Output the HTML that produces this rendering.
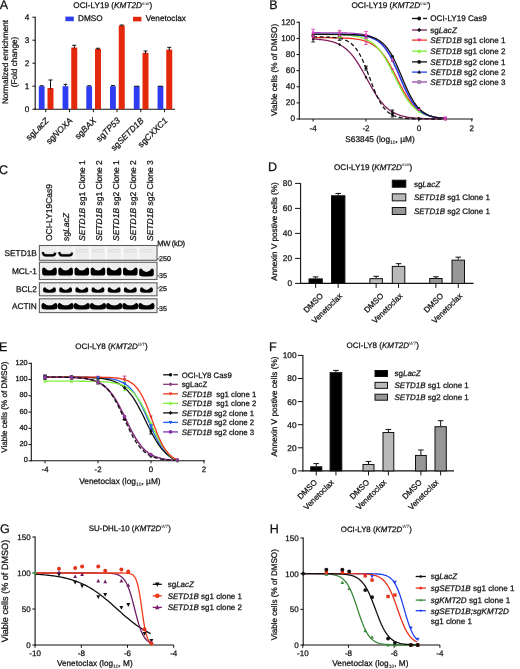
<!DOCTYPE html>
<html><head><meta charset="utf-8"><style>
html,body{margin:0;padding:0;background:#fff;}
body{width:520px;height:669px;overflow:hidden;}
svg{display:block;will-change:transform;}
text{font-family:"Liberation Sans", sans-serif;text-rendering:geometricPrecision;stroke:#111;stroke-width:0.25px;}
</style></head><body>
<svg width="520" height="669" viewBox="0 0 520 669">
<rect width="520" height="669" fill="#fff"/>
<text x="-0.30" y="8.60" font-size="12.5" text-anchor="start" fill="#111" >A</text>
<text x="73.30" y="7.80" font-size="8.2" fill="#111">OCI-LY19 (<tspan font-style="italic">KMT2D</tspan><tspan font-size="4.6" dy="-3.2" font-style="italic" style="stroke-width:0px">mut</tspan><tspan dy="3.2">)</tspan></text>
<line x1="35.20" y1="16.70" x2="35.20" y2="109.70" stroke="#111" stroke-width="1.1" />
<line x1="34.70" y1="109.20" x2="175.00" y2="109.20" stroke="#111" stroke-width="1.1" />
<line x1="32.40" y1="109.20" x2="35.20" y2="109.20" stroke="#111" stroke-width="1" />
<text x="29.20" y="112.10" font-size="8.2" text-anchor="end" fill="#111" >0</text>
<line x1="32.40" y1="86.20" x2="35.20" y2="86.20" stroke="#111" stroke-width="1" />
<text x="29.20" y="89.10" font-size="8.2" text-anchor="end" fill="#111" >1</text>
<line x1="32.40" y1="63.20" x2="35.20" y2="63.20" stroke="#111" stroke-width="1" />
<text x="29.20" y="66.10" font-size="8.2" text-anchor="end" fill="#111" >2</text>
<line x1="32.40" y1="40.20" x2="35.20" y2="40.20" stroke="#111" stroke-width="1" />
<text x="29.20" y="43.10" font-size="8.2" text-anchor="end" fill="#111" >3</text>
<line x1="32.40" y1="17.20" x2="35.20" y2="17.20" stroke="#111" stroke-width="1" />
<text x="29.20" y="20.10" font-size="8.2" text-anchor="end" fill="#111" >4</text>
<text x="7.50" y="62.00" font-size="8.2" text-anchor="middle" fill="#111" transform="rotate(-90 7.50 62.00)" >Normalized enrichment</text>
<text x="17.00" y="62.00" font-size="8.2" text-anchor="middle" fill="#111" transform="rotate(-90 17.00 62.00)" >(Fold change)</text>
<rect x="65.40" y="16.60" width="8.40" height="4.60" fill="#2f3cf2" stroke="none" stroke-width="0" />
<text x="78.00" y="21.30" font-size="8.2" text-anchor="start" fill="#111" >DMSO</text>
<rect x="133.00" y="16.80" width="8.40" height="4.60" fill="#e3280c" stroke="none" stroke-width="0" />
<text x="145.80" y="21.30" font-size="8.2" text-anchor="start" fill="#111" >Venetoclax</text>
<rect x="38.80" y="86.20" width="5.80" height="23.00" fill="#2f3cf2" stroke="none" stroke-width="0" />
<line x1="41.70" y1="85.74" x2="41.70" y2="86.20" stroke="#111" stroke-width="1" />
<line x1="39.80" y1="85.74" x2="43.60" y2="85.74" stroke="#111" stroke-width="1" />
<rect x="47.50" y="88.04" width="6.00" height="21.16" fill="#e3280c" stroke="none" stroke-width="0" />
<line x1="50.50" y1="79.99" x2="50.50" y2="89.04" stroke="#111" stroke-width="1" />
<line x1="48.50" y1="79.99" x2="52.50" y2="79.99" stroke="#111" stroke-width="1" />
<line x1="45.80" y1="109.20" x2="45.80" y2="112.20" stroke="#111" stroke-width="1" />
<text x="49.30" y="121.20" font-size="8.6" text-anchor="end" fill="#111" transform="rotate(-45 49.30 121.20)">sg<tspan font-style="italic">LacZ</tspan></text>
<rect x="62.55" y="86.20" width="5.80" height="23.00" fill="#2f3cf2" stroke="none" stroke-width="0" />
<line x1="65.45" y1="84.36" x2="65.45" y2="86.20" stroke="#111" stroke-width="1" />
<line x1="63.55" y1="84.36" x2="67.35" y2="84.36" stroke="#111" stroke-width="1" />
<rect x="71.25" y="47.56" width="6.00" height="61.64" fill="#e3280c" stroke="none" stroke-width="0" />
<line x1="74.25" y1="45.26" x2="74.25" y2="48.56" stroke="#111" stroke-width="1" />
<line x1="72.25" y1="45.26" x2="76.25" y2="45.26" stroke="#111" stroke-width="1" />
<line x1="69.55" y1="109.20" x2="69.55" y2="112.20" stroke="#111" stroke-width="1" />
<text x="73.05" y="121.20" font-size="8.6" text-anchor="end" fill="#111" transform="rotate(-45 73.05 121.20)">sg<tspan font-style="italic">NOXA</tspan></text>
<rect x="86.30" y="86.20" width="5.80" height="23.00" fill="#2f3cf2" stroke="none" stroke-width="0" />
<line x1="89.20" y1="85.74" x2="89.20" y2="86.20" stroke="#111" stroke-width="1" />
<line x1="87.30" y1="85.74" x2="91.10" y2="85.74" stroke="#111" stroke-width="1" />
<rect x="95.00" y="48.94" width="6.00" height="60.26" fill="#e3280c" stroke="none" stroke-width="0" />
<line x1="98.00" y1="48.25" x2="98.00" y2="49.94" stroke="#111" stroke-width="1" />
<line x1="96.00" y1="48.25" x2="100.00" y2="48.25" stroke="#111" stroke-width="1" />
<line x1="93.30" y1="109.20" x2="93.30" y2="112.20" stroke="#111" stroke-width="1" />
<text x="96.80" y="121.20" font-size="8.6" text-anchor="end" fill="#111" transform="rotate(-45 96.80 121.20)">sg<tspan font-style="italic">BAX</tspan></text>
<rect x="110.05" y="86.20" width="5.80" height="23.00" fill="#2f3cf2" stroke="none" stroke-width="0" />
<line x1="112.95" y1="85.51" x2="112.95" y2="86.20" stroke="#111" stroke-width="1" />
<line x1="111.05" y1="85.51" x2="114.85" y2="85.51" stroke="#111" stroke-width="1" />
<rect x="118.75" y="25.48" width="6.00" height="83.72" fill="#e3280c" stroke="none" stroke-width="0" />
<line x1="121.75" y1="25.02" x2="121.75" y2="26.48" stroke="#111" stroke-width="1" />
<line x1="119.75" y1="25.02" x2="123.75" y2="25.02" stroke="#111" stroke-width="1" />
<line x1="117.05" y1="109.20" x2="117.05" y2="112.20" stroke="#111" stroke-width="1" />
<text x="120.55" y="121.20" font-size="8.6" text-anchor="end" fill="#111" transform="rotate(-45 120.55 121.20)">sg<tspan font-style="italic">TP53</tspan></text>
<rect x="133.80" y="86.20" width="5.80" height="23.00" fill="#2f3cf2" stroke="none" stroke-width="0" />
<line x1="134.30" y1="86.20" x2="139.10" y2="86.20" stroke="#111" stroke-width="1" />
<rect x="142.50" y="52.85" width="6.00" height="56.35" fill="#e3280c" stroke="none" stroke-width="0" />
<line x1="145.50" y1="51.01" x2="145.50" y2="53.85" stroke="#111" stroke-width="1" />
<line x1="143.50" y1="51.01" x2="147.50" y2="51.01" stroke="#111" stroke-width="1" />
<line x1="140.80" y1="109.20" x2="140.80" y2="112.20" stroke="#111" stroke-width="1" />
<text x="144.30" y="121.20" font-size="8.6" text-anchor="end" fill="#111" transform="rotate(-45 144.30 121.20)">sg<tspan font-style="italic">SETD1B</tspan></text>
<rect x="157.55" y="86.20" width="5.80" height="23.00" fill="#2f3cf2" stroke="none" stroke-width="0" />
<line x1="158.05" y1="86.20" x2="162.85" y2="86.20" stroke="#111" stroke-width="1" />
<rect x="166.25" y="49.63" width="6.00" height="59.57" fill="#e3280c" stroke="none" stroke-width="0" />
<line x1="169.25" y1="47.33" x2="169.25" y2="50.63" stroke="#111" stroke-width="1" />
<line x1="167.25" y1="47.33" x2="171.25" y2="47.33" stroke="#111" stroke-width="1" />
<line x1="164.55" y1="109.20" x2="164.55" y2="112.20" stroke="#111" stroke-width="1" />
<text x="168.05" y="121.20" font-size="8.6" text-anchor="end" fill="#111" transform="rotate(-45 168.05 121.20)">sg<tspan font-style="italic">CXXC1</tspan></text>
<text x="269.30" y="8.70" font-size="12.5" text-anchor="start" fill="#111" >B</text>
<text x="351.50" y="8.00" font-size="8.2" fill="#111">OCI-LY19 (<tspan font-style="italic">KMT2D</tspan><tspan font-size="4.6" dy="-3.2" font-style="italic" style="stroke-width:0px">mut</tspan><tspan dy="3.2">)</tspan></text>
<line x1="299.30" y1="21.78" x2="299.30" y2="119.50" stroke="#111" stroke-width="1.1" />
<line x1="298.80" y1="119.00" x2="473.00" y2="119.00" stroke="#111" stroke-width="1.1" />
<line x1="296.50" y1="119.00" x2="299.30" y2="119.00" stroke="#111" stroke-width="1" />
<text x="295.00" y="121.30" font-size="8.3" text-anchor="end" fill="#111" >0</text>
<line x1="296.50" y1="102.88" x2="299.30" y2="102.88" stroke="#111" stroke-width="1" />
<text x="295.00" y="105.18" font-size="8.3" text-anchor="end" fill="#111" >20</text>
<line x1="296.50" y1="86.76" x2="299.30" y2="86.76" stroke="#111" stroke-width="1" />
<text x="295.00" y="89.06" font-size="8.3" text-anchor="end" fill="#111" >40</text>
<line x1="296.50" y1="70.64" x2="299.30" y2="70.64" stroke="#111" stroke-width="1" />
<text x="295.00" y="72.94" font-size="8.3" text-anchor="end" fill="#111" >60</text>
<line x1="296.50" y1="54.52" x2="299.30" y2="54.52" stroke="#111" stroke-width="1" />
<text x="295.00" y="56.82" font-size="8.3" text-anchor="end" fill="#111" >80</text>
<line x1="296.50" y1="38.40" x2="299.30" y2="38.40" stroke="#111" stroke-width="1" />
<text x="295.00" y="40.70" font-size="8.3" text-anchor="end" fill="#111" >100</text>
<line x1="296.50" y1="22.28" x2="299.30" y2="22.28" stroke="#111" stroke-width="1" />
<text x="295.00" y="24.58" font-size="8.3" text-anchor="end" fill="#111" >120</text>
<line x1="313.10" y1="119.00" x2="313.10" y2="121.50" stroke="#111" stroke-width="1" />
<text x="313.10" y="130.50" font-size="8" text-anchor="middle" fill="#111" >-4</text>
<line x1="366.00" y1="119.00" x2="366.00" y2="121.50" stroke="#111" stroke-width="1" />
<text x="366.00" y="130.50" font-size="8" text-anchor="middle" fill="#111" >-2</text>
<line x1="418.90" y1="119.00" x2="418.90" y2="121.50" stroke="#111" stroke-width="1" />
<text x="418.90" y="130.50" font-size="8" text-anchor="middle" fill="#111" >0</text>
<line x1="471.80" y1="119.00" x2="471.80" y2="121.50" stroke="#111" stroke-width="1" />
<text x="471.80" y="130.50" font-size="8" text-anchor="middle" fill="#111" >2</text>
<text x="345.3" y="142" font-size="8.3" fill="#111">S63845 (log<tspan font-size="5" dy="2" style="stroke-width:0.1px">10</tspan><tspan dy="-2">, µM)</tspan></text>
<text x="277.00" y="70.00" font-size="8.2" text-anchor="middle" fill="#111" transform="rotate(-90 277.00 70.00)" >Viable cells (% of DMSO)</text>
<polyline points="313.10,37.62 314.75,37.62 316.41,37.63 318.06,37.63 319.71,37.64 321.37,37.65 323.02,37.65 324.67,37.66 326.32,37.68 327.98,37.69 329.63,37.71 331.28,37.73 332.94,37.75 334.59,37.78 336.24,37.81 337.90,37.85 339.55,37.90 341.20,37.95 342.86,38.01 344.51,38.08 346.16,38.17 347.82,38.26 349.47,38.38 351.12,38.52 352.77,38.68 354.43,38.86 356.08,39.08 357.73,39.34 359.39,39.63 361.04,39.98 362.69,40.38 364.35,40.85 366.00,41.39 367.65,42.02 369.31,42.74 370.96,43.58 372.61,44.54 374.27,45.63 375.92,46.88 377.57,48.29 379.22,49.88 380.88,51.65 382.53,53.63 384.18,55.80 385.84,58.18 387.49,60.76 389.14,63.52 390.80,66.45 392.45,69.51 394.10,72.69 395.76,75.94 397.41,79.22 399.06,82.48 400.72,85.69 402.37,88.81 404.02,91.81 405.67,94.64 407.33,97.30 408.98,99.77 410.63,102.03 412.29,104.10 413.94,105.96 415.59,107.63 417.25,109.12 418.90,110.43 420.55,111.59 422.21,112.61 423.86,113.50 425.51,114.27 427.17,114.94 428.82,115.52 430.47,116.02 432.12,116.45 433.78,116.82 435.43,117.13 437.08,117.41 438.74,117.64 440.39,117.84 442.04,118.01 443.70,118.16 445.35,118.28" fill="none" stroke="#f0361c" stroke-width="1.3"/>
<polyline points="313.10,34.40 314.75,34.41 316.41,34.41 318.06,34.42 319.71,34.43 321.37,34.44 323.02,34.45 324.67,34.47 326.32,34.48 327.98,34.50 329.63,34.53 331.28,34.55 332.94,34.58 334.59,34.62 336.24,34.66 337.90,34.71 339.55,34.77 341.20,34.84 342.86,34.92 344.51,35.02 346.16,35.13 347.82,35.26 349.47,35.41 351.12,35.59 352.77,35.80 354.43,36.04 356.08,36.33 357.73,36.65 359.39,37.04 361.04,37.48 362.69,38.00 364.35,38.60 366.00,39.29 367.65,40.08 369.31,40.99 370.96,42.04 372.61,43.22 374.27,44.57 375.92,46.09 377.57,47.80 379.22,49.71 380.88,51.82 382.53,54.13 384.18,56.66 385.84,59.38 387.49,62.28 389.14,65.34 390.80,68.54 392.45,71.84 394.10,75.20 395.76,78.58 397.41,81.93 399.06,85.22 400.72,88.40 402.37,91.45 404.02,94.33 405.67,97.03 407.33,99.53 408.98,101.82 410.63,103.90 412.29,105.78 413.94,107.47 415.59,108.97 417.25,110.30 418.90,111.47 420.55,112.49 422.21,113.39 423.86,114.17 425.51,114.85 427.17,115.44 428.82,115.94 430.47,116.38 432.12,116.76 433.78,117.08 435.43,117.36 437.08,117.60 438.74,117.80 440.39,117.98 442.04,118.13 443.70,118.25 445.35,118.36" fill="none" stroke="#7cf03a" stroke-width="1.3"/>
<polyline points="313.10,32.77 314.75,32.77 316.41,32.77 318.06,32.77 319.71,32.77 321.37,32.78 323.02,32.78 324.67,32.78 326.32,32.79 327.98,32.79 329.63,32.80 331.28,32.81 332.94,32.82 334.59,32.83 336.24,32.85 337.90,32.87 339.55,32.89 341.20,32.91 342.86,32.94 344.51,32.98 346.16,33.02 347.82,33.07 349.47,33.14 351.12,33.21 352.77,33.30 354.43,33.40 356.08,33.53 357.73,33.68 359.39,33.86 361.04,34.08 362.69,34.33 364.35,34.63 366.00,34.99 367.65,35.42 369.31,35.93 370.96,36.52 372.61,37.23 374.27,38.05 375.92,39.02 377.57,40.15 379.22,41.46 380.88,42.97 382.53,44.70 384.18,46.68 385.84,48.91 387.49,51.40 389.14,54.17 390.80,57.19 392.45,60.46 394.10,63.94 395.76,67.61 397.41,71.40 399.06,75.26 400.72,79.13 402.37,82.95 404.02,86.66 405.67,90.21 407.33,93.55 408.98,96.65 410.63,99.50 412.29,102.08 413.94,104.39 415.59,106.45 417.25,108.26 418.90,109.84 420.55,111.21 422.21,112.40 423.86,113.41 425.51,114.28 427.17,115.02 428.82,115.65 430.47,116.19 432.12,116.64 433.78,117.02 435.43,117.34 437.08,117.61 438.74,117.83 440.39,118.02 442.04,118.18 443.70,118.32 445.35,118.43" fill="none" stroke="#a040b8" stroke-width="1.3"/>
<polyline points="313.10,34.38 314.75,34.38 316.41,34.38 318.06,34.38 319.71,34.38 321.37,34.38 323.02,34.39 324.67,34.39 326.32,34.39 327.98,34.40 329.63,34.41 331.28,34.41 332.94,34.42 334.59,34.43 336.24,34.44 337.90,34.46 339.55,34.48 341.20,34.50 342.86,34.52 344.51,34.56 346.16,34.59 347.82,34.64 349.47,34.69 351.12,34.76 352.77,34.83 354.43,34.92 356.08,35.03 357.73,35.17 359.39,35.32 361.04,35.51 362.69,35.74 364.35,36.01 366.00,36.33 367.65,36.71 369.31,37.16 370.96,37.70 372.61,38.34 374.27,39.09 375.92,39.97 377.57,41.01 379.22,42.22 380.88,43.62 382.53,45.23 384.18,47.09 385.84,49.19 387.49,51.56 389.14,54.20 390.80,57.10 392.45,60.27 394.10,63.66 395.76,67.26 397.41,71.00 399.06,74.83 400.72,78.69 402.37,82.53 404.02,86.26 405.67,89.85 407.33,93.23 408.98,96.39 410.63,99.28 412.29,101.91 413.94,104.27 415.59,106.36 417.25,108.20 418.90,109.81 420.55,111.21 422.21,112.41 423.86,113.44 425.51,114.31 427.17,115.06 428.82,115.69 430.47,116.23 432.12,116.68 433.78,117.06 435.43,117.37 437.08,117.64 438.74,117.87 440.39,118.05 442.04,118.21 443.70,118.34 445.35,118.45" fill="none" stroke="#2140f0" stroke-width="1.3"/>
<polyline points="313.10,34.37 314.75,34.37 316.41,34.38 318.06,34.38 319.71,34.38 321.37,34.38 323.02,34.38 324.67,34.38 326.32,34.39 327.98,34.39 329.63,34.39 331.28,34.40 332.94,34.41 334.59,34.41 336.24,34.42 337.90,34.43 339.55,34.44 341.20,34.46 342.86,34.48 344.51,34.50 346.16,34.53 347.82,34.56 349.47,34.60 351.12,34.65 352.77,34.70 354.43,34.77 356.08,34.85 357.73,34.95 359.39,35.07 361.04,35.21 362.69,35.38 364.35,35.59 366.00,35.83 367.65,36.13 369.31,36.48 370.96,36.90 372.61,37.40 374.27,38.00 375.92,38.71 377.57,39.54 379.22,40.53 380.88,41.69 382.53,43.04 384.18,44.61 385.84,46.42 387.49,48.48 389.14,50.82 390.80,53.44 392.45,56.35 394.10,59.52 395.76,62.95 397.41,66.59 399.06,70.40 400.72,74.31 402.37,78.27 404.02,82.20 405.67,86.03 407.33,89.71 408.98,93.18 410.63,96.41 412.29,99.37 413.94,102.05 415.59,104.44 417.25,106.56 418.90,108.42 420.55,110.03 422.21,111.43 423.86,112.62 425.51,113.64 427.17,114.51 428.82,115.24 430.47,115.86 432.12,116.38 433.78,116.81 435.43,117.18 437.08,117.48 438.74,117.74 440.39,117.95 442.04,118.13 443.70,118.28 445.35,118.40" fill="none" stroke="#111111" stroke-width="1.3"/>
<polyline points="313.10,38.99 314.75,39.09 316.41,39.20 318.06,39.33 319.71,39.48 321.37,39.65 323.02,39.85 324.67,40.08 326.32,40.35 327.98,40.65 329.63,41.01 331.28,41.42 332.94,41.89 334.59,42.43 336.24,43.05 337.90,43.76 339.55,44.57 341.20,45.49 342.86,46.53 344.51,47.70 346.16,49.02 347.82,50.49 349.47,52.13 351.12,53.93 352.77,55.92 354.43,58.08 356.08,60.41 357.73,62.91 359.39,65.56 361.04,68.34 362.69,71.24 364.35,74.21 366.00,77.24 367.65,80.28 369.31,83.31 370.96,86.28 372.61,89.17 374.27,91.95 375.92,94.60 377.57,97.09 379.22,99.41 380.88,101.57 382.53,103.54 384.18,105.34 385.84,106.97 387.49,108.44 389.14,109.75 390.80,110.92 392.45,111.95 394.10,112.86 395.76,113.67 397.41,114.37 399.06,114.99 400.72,115.53 402.37,116.00 404.02,116.40 405.67,116.76 407.33,117.07 408.98,117.33 410.63,117.56 412.29,117.76 413.94,117.93 415.59,118.08 417.25,118.21 418.90,118.32 420.55,118.41 422.21,118.49 423.86,118.56 425.51,118.63 427.17,118.68 428.82,118.72 430.47,118.76 432.12,118.80 433.78,118.82 435.43,118.85 437.08,118.87 438.74,118.89 440.39,118.90 442.04,118.92 443.70,118.93 445.35,118.94" fill="none" stroke="#7a1f5a" stroke-width="1.3"/>
<polyline points="313.10,36.84 314.75,36.85 316.41,36.87 318.06,36.88 319.71,36.91 321.37,36.94 323.02,36.97 324.67,37.02 326.32,37.07 327.98,37.14 329.63,37.22 331.28,37.33 332.94,37.46 334.59,37.62 336.24,37.82 337.90,38.06 339.55,38.36 341.20,38.73 342.86,39.18 344.51,39.74 346.16,40.42 347.82,41.25 349.47,42.25 351.12,43.46 352.77,44.91 354.43,46.63 356.08,48.66 357.73,51.03 359.39,53.75 361.04,56.84 362.69,60.29 364.35,64.08 366.00,68.14 367.65,72.43 369.31,76.83 370.96,81.26 372.61,85.61 374.27,89.79 375.92,93.72 377.57,97.33 379.22,100.60 380.88,103.50 382.53,106.03 384.18,108.22 385.84,110.09 387.49,111.66 389.14,112.98 390.80,114.08 392.45,114.99 394.10,115.74 395.76,116.35 397.41,116.85 399.06,117.26 400.72,117.59 402.37,117.86 404.02,118.08 405.67,118.26 407.33,118.40 408.98,118.52 410.63,118.61 412.29,118.69 413.94,118.75 415.59,118.80 417.25,118.83 418.90,118.87 420.55,118.89 422.21,118.91 423.86,118.93 425.51,118.94 427.17,118.95 428.82,118.96 430.47,118.97 432.12,118.98 433.78,118.98 435.43,118.98 437.08,118.99 438.74,118.99 440.39,118.99 442.04,118.99 443.70,118.99 445.35,119.00" fill="none" stroke="#111111" stroke-width="1.3" stroke-dasharray="4,2.5"/>
<circle cx="313.10" cy="36.84" r="1.40" fill="#111"/>
<line x1="339.55" y1="36.36" x2="339.55" y2="40.36" stroke="#111" stroke-width="0.9" />
<line x1="337.75" y1="36.36" x2="341.35" y2="36.36" stroke="#111" stroke-width="0.9" />
<line x1="337.75" y1="40.36" x2="341.35" y2="40.36" stroke="#111" stroke-width="0.9" />
<circle cx="339.55" cy="38.36" r="1.40" fill="#111"/>
<line x1="366.00" y1="66.14" x2="366.00" y2="70.14" stroke="#111" stroke-width="0.9" />
<line x1="364.20" y1="66.14" x2="367.80" y2="66.14" stroke="#111" stroke-width="0.9" />
<line x1="364.20" y1="70.14" x2="367.80" y2="70.14" stroke="#111" stroke-width="0.9" />
<circle cx="366.00" cy="68.14" r="1.40" fill="#111"/>
<line x1="392.45" y1="112.99" x2="392.45" y2="116.99" stroke="#111" stroke-width="0.9" />
<line x1="390.65" y1="112.99" x2="394.25" y2="112.99" stroke="#111" stroke-width="0.9" />
<line x1="390.65" y1="116.99" x2="394.25" y2="116.99" stroke="#111" stroke-width="0.9" />
<circle cx="392.45" cy="114.99" r="1.40" fill="#111"/>
<circle cx="418.90" cy="118.87" r="1.40" fill="#111"/>
<circle cx="445.35" cy="119.00" r="1.40" fill="#111"/>
<line x1="313.10" y1="35.99" x2="313.10" y2="41.99" stroke="#111" stroke-width="0.9" />
<line x1="311.30" y1="35.99" x2="314.90" y2="35.99" stroke="#111" stroke-width="0.9" />
<line x1="311.30" y1="41.99" x2="314.90" y2="41.99" stroke="#111" stroke-width="0.9" />
<polygon points="313.10,37.31 314.50,38.99 313.10,40.67 311.70,38.99" fill="#111"/>
<polygon points="339.55,42.89 340.95,44.57 339.55,46.25 338.15,44.57" fill="#111"/>
<polygon points="366.00,75.56 367.40,77.24 366.00,78.92 364.60,77.24" fill="#111"/>
<line x1="392.45" y1="109.95" x2="392.45" y2="113.95" stroke="#111" stroke-width="0.9" />
<line x1="390.65" y1="109.95" x2="394.25" y2="109.95" stroke="#111" stroke-width="0.9" />
<line x1="390.65" y1="113.95" x2="394.25" y2="113.95" stroke="#111" stroke-width="0.9" />
<polygon points="392.45,110.27 393.85,111.95 392.45,113.63 391.05,111.95" fill="#111"/>
<polygon points="418.90,116.64 420.30,118.32 418.90,120.00 417.50,118.32" fill="#111"/>
<polygon points="445.35,117.26 446.75,118.94 445.35,120.62 443.95,118.94" fill="#111"/>
<polygon points="313.10,39.16 311.70,36.50 314.50,36.50" fill="#e0339a"/>
<polygon points="339.55,39.44 338.15,36.78 340.95,36.78" fill="#e0339a"/>
<line x1="366.00" y1="38.39" x2="366.00" y2="44.39" stroke="#e0339a" stroke-width="0.9" />
<line x1="364.20" y1="38.39" x2="367.80" y2="38.39" stroke="#e0339a" stroke-width="0.9" />
<line x1="364.20" y1="44.39" x2="367.80" y2="44.39" stroke="#e0339a" stroke-width="0.9" />
<polygon points="366.00,42.93 364.60,40.27 367.40,40.27" fill="#e0339a"/>
<polygon points="392.45,71.05 391.05,68.39 393.85,68.39" fill="#e0339a"/>
<polygon points="418.90,111.97 417.50,109.31 420.30,109.31" fill="#e0339a"/>
<polygon points="445.35,119.82 443.95,117.16 446.75,117.16" fill="#e0339a"/>
<polygon points="313.10,32.58 313.66,33.98 314.92,33.98 313.94,34.82 314.36,36.08 313.10,35.38 311.84,36.08 312.26,34.82 311.28,33.98 312.54,33.98" fill="#7cf03a"/>
<line x1="339.55" y1="31.77" x2="339.55" y2="37.77" stroke="#7cf03a" stroke-width="0.9" />
<line x1="337.75" y1="31.77" x2="341.35" y2="31.77" stroke="#7cf03a" stroke-width="0.9" />
<line x1="337.75" y1="37.77" x2="341.35" y2="37.77" stroke="#7cf03a" stroke-width="0.9" />
<polygon points="339.55,32.95 340.11,34.35 341.37,34.35 340.39,35.19 340.81,36.45 339.55,35.75 338.29,36.45 338.71,35.19 337.73,34.35 338.99,34.35" fill="#7cf03a"/>
<polygon points="366.00,37.47 366.56,38.87 367.82,38.87 366.84,39.71 367.26,40.97 366.00,40.27 364.74,40.97 365.16,39.71 364.18,38.87 365.44,38.87" fill="#7cf03a"/>
<polygon points="392.45,70.02 393.01,71.42 394.27,71.42 393.29,72.26 393.71,73.52 392.45,72.82 391.19,73.52 391.61,72.26 390.63,71.42 391.89,71.42" fill="#7cf03a"/>
<polygon points="418.90,109.65 419.46,111.05 420.72,111.05 419.74,111.89 420.16,113.15 418.90,112.45 417.64,113.15 418.06,111.89 417.08,111.05 418.34,111.05" fill="#7cf03a"/>
<polygon points="445.35,116.54 445.91,117.94 447.17,117.94 446.19,118.78 446.61,120.04 445.35,119.34 444.09,120.04 444.51,118.78 443.53,117.94 444.79,117.94" fill="#7cf03a"/>
<circle cx="313.10" cy="34.37" r="1.40" fill="#111"/>
<circle cx="339.55" cy="34.44" r="1.40" fill="#111"/>
<circle cx="366.00" cy="35.83" r="1.40" fill="#111"/>
<circle cx="392.45" cy="56.35" r="1.40" fill="#111"/>
<circle cx="418.90" cy="108.42" r="1.40" fill="#111"/>
<circle cx="445.35" cy="118.40" r="1.40" fill="#111"/>
<polygon points="313.10,32.84 311.70,35.50 314.50,35.50" fill="#111"/>
<polygon points="339.55,32.94 338.15,35.60 340.95,35.60" fill="#111"/>
<polygon points="366.00,34.79 364.60,37.45 367.40,37.45" fill="#111"/>
<polygon points="392.45,58.73 391.05,61.39 393.85,61.39" fill="#111"/>
<polygon points="418.90,108.27 417.50,110.93 420.30,110.93" fill="#111"/>
<polygon points="445.35,116.91 443.95,119.57 446.75,119.57" fill="#111"/>
<line x1="313.10" y1="29.27" x2="313.10" y2="36.27" stroke="#e040c0" stroke-width="0.9" />
<line x1="311.30" y1="29.27" x2="314.90" y2="29.27" stroke="#e040c0" stroke-width="0.9" />
<line x1="311.30" y1="36.27" x2="314.90" y2="36.27" stroke="#e040c0" stroke-width="0.9" />
<circle cx="313.10" cy="32.77" r="1.40" fill="#e040c0"/>
<line x1="339.55" y1="30.39" x2="339.55" y2="35.39" stroke="#e040c0" stroke-width="0.9" />
<line x1="337.75" y1="30.39" x2="341.35" y2="30.39" stroke="#e040c0" stroke-width="0.9" />
<line x1="337.75" y1="35.39" x2="341.35" y2="35.39" stroke="#e040c0" stroke-width="0.9" />
<circle cx="339.55" cy="32.89" r="1.40" fill="#e040c0"/>
<line x1="366.00" y1="31.49" x2="366.00" y2="38.49" stroke="#e040c0" stroke-width="0.9" />
<line x1="364.20" y1="31.49" x2="367.80" y2="31.49" stroke="#e040c0" stroke-width="0.9" />
<line x1="364.20" y1="38.49" x2="367.80" y2="38.49" stroke="#e040c0" stroke-width="0.9" />
<circle cx="366.00" cy="34.99" r="1.40" fill="#e040c0"/>
<circle cx="392.45" cy="60.46" r="1.40" fill="#e040c0"/>
<circle cx="418.90" cy="109.84" r="1.40" fill="#e040c0"/>
<line x1="445.35" y1="116.93" x2="445.35" y2="119.93" stroke="#e040c0" stroke-width="0.9" />
<line x1="443.55" y1="116.93" x2="447.15" y2="116.93" stroke="#e040c0" stroke-width="0.9" />
<line x1="443.55" y1="119.93" x2="447.15" y2="119.93" stroke="#e040c0" stroke-width="0.9" />
<circle cx="445.35" cy="118.43" r="1.40" fill="#e040c0"/>
<line x1="412" y1="18.50" x2="419" y2="18.50" stroke="#111" stroke-width="1.3"/>
<line x1="423" y1="18.50" x2="427" y2="18.50" stroke="#111" stroke-width="1.3"/>
<circle cx="419.20" cy="18.50" r="1.90" fill="#111"/>
<text x="430.3" y="21.40" font-size="8.1" fill="#111">OCI-LY19 Cas9</text>
<line x1="412" y1="30.00" x2="427" y2="30.00" stroke="#7a1f5a" stroke-width="1.3"/>
<polygon points="419.20,27.72 421.10,30.00 419.20,32.28 417.30,30.00" fill="#111"/>
<text x="430.3" y="32.90" font-size="8.1" fill="#111">sg<tspan font-style="italic">LacZ</tspan></text>
<line x1="412" y1="40.10" x2="427" y2="40.10" stroke="#f0361c" stroke-width="1.3"/>
<polygon points="419.20,42.19 417.30,38.58 421.10,38.58" fill="#e0339a"/>
<text x="430.3" y="43.00" font-size="8.1" fill="#111"><tspan font-style="italic">SETD1B</tspan> sg1 clone 1</text>
<line x1="412" y1="51.20" x2="427" y2="51.20" stroke="#7cf03a" stroke-width="1.3"/>
<polygon points="419.20,48.73 419.96,50.63 421.67,50.63 420.34,51.77 420.91,53.48 419.20,52.53 417.49,53.48 418.06,51.77 416.73,50.63 418.44,50.63" fill="#7cf03a"/>
<text x="430.3" y="54.10" font-size="8.1" fill="#111"><tspan font-style="italic">SETD1B</tspan> sg1 clone 2</text>
<line x1="412" y1="61.90" x2="427" y2="61.90" stroke="#111" stroke-width="1.3"/>
<circle cx="419.20" cy="61.90" r="1.90" fill="#111"/>
<text x="430.3" y="64.80" font-size="8.1" fill="#111"><tspan font-style="italic">SETD1B</tspan> sg2 clone 1</text>
<line x1="412" y1="72.10" x2="427" y2="72.10" stroke="#2140f0" stroke-width="1.3"/>
<polygon points="419.20,70.01 417.30,73.62 421.10,73.62" fill="#111"/>
<text x="430.3" y="75.00" font-size="8.1" fill="#111"><tspan font-style="italic">SETD1B</tspan> sg2 clone 2</text>
<line x1="412" y1="82.00" x2="427" y2="82.00" stroke="#a040b8" stroke-width="1.3"/>
<rect x="417.30" y="80.10" width="3.80" height="3.80" fill="#a08aa8"/>
<text x="430.3" y="84.90" font-size="8.1" fill="#111"><tspan font-style="italic">SETD1B</tspan> sg2 clone 3</text>
<text x="-1.00" y="173.60" font-size="12.5" text-anchor="start" fill="#111" >C</text>
<text x="51.70" y="241.00" font-size="8.5" fill="#111" transform="rotate(-90 51.70 241.00)">OCI-LY19Cas9</text>
<text x="68.50" y="241.00" font-size="8.5" fill="#111" transform="rotate(-90 68.50 241.00)">sg<tspan font-style="italic">LacZ</tspan></text>
<text x="85.30" y="241.00" font-size="8.5" fill="#111" transform="rotate(-90 85.30 241.00)"><tspan font-style="italic">SETD1B</tspan> sg1 Clone 1</text>
<text x="102.10" y="241.00" font-size="8.5" fill="#111" transform="rotate(-90 102.10 241.00)"><tspan font-style="italic">SETD1B</tspan> sg1 Clone 2</text>
<text x="118.90" y="241.00" font-size="8.5" fill="#111" transform="rotate(-90 118.90 241.00)"><tspan font-style="italic">SETD1B</tspan> sg2 Clone 1</text>
<text x="135.70" y="241.00" font-size="8.5" fill="#111" transform="rotate(-90 135.70 241.00)"><tspan font-style="italic">SETD1B</tspan> sg2 Clone 2</text>
<text x="152.50" y="241.00" font-size="8.5" fill="#111" transform="rotate(-90 152.50 241.00)"><tspan font-style="italic">SETD1B</tspan> sg2 Clone 3</text>
<defs><filter id="bl" x="-20%" y="-50%" width="140%" height="200%"><feGaussianBlur stdDeviation="0.45"/></filter></defs>
<rect x="39.40" y="245.50" width="117.60" height="14.80" fill="#eeeeee" stroke="#606060" stroke-width="1.1" />
<rect x="56.53" y="246.50" width="2" height="12.80" fill="#f8f8f8" filter="url(#bl)"/>
<rect x="72.70" y="246.50" width="2" height="12.80" fill="#f8f8f8" filter="url(#bl)"/>
<rect x="88.87" y="246.50" width="2" height="12.80" fill="#f8f8f8" filter="url(#bl)"/>
<rect x="105.04" y="246.50" width="2" height="12.80" fill="#f8f8f8" filter="url(#bl)"/>
<rect x="121.21" y="246.50" width="2" height="12.80" fill="#f8f8f8" filter="url(#bl)"/>
<rect x="137.38" y="246.50" width="2" height="12.80" fill="#f8f8f8" filter="url(#bl)"/>
<text x="36.80" y="255.80" font-size="8.3" text-anchor="end" fill="#111" >SETD1B</text>
<line x1="157.50" y1="258.80" x2="159.30" y2="258.80" stroke="#111" stroke-width="0.8" />
<text x="159.00" y="261.40" font-size="7.1" text-anchor="start" fill="#111" >250</text>
<rect x="39.40" y="262.30" width="117.60" height="17.20" fill="#eeeeee" stroke="#606060" stroke-width="1.1" />
<rect x="56.53" y="263.30" width="2" height="15.20" fill="#f8f8f8" filter="url(#bl)"/>
<rect x="72.70" y="263.30" width="2" height="15.20" fill="#f8f8f8" filter="url(#bl)"/>
<rect x="88.87" y="263.30" width="2" height="15.20" fill="#f8f8f8" filter="url(#bl)"/>
<rect x="105.04" y="263.30" width="2" height="15.20" fill="#f8f8f8" filter="url(#bl)"/>
<rect x="121.21" y="263.30" width="2" height="15.20" fill="#f8f8f8" filter="url(#bl)"/>
<rect x="137.38" y="263.30" width="2" height="15.20" fill="#f8f8f8" filter="url(#bl)"/>
<text x="36.80" y="273.80" font-size="8.3" text-anchor="end" fill="#111" >MCL-1</text>
<line x1="157.50" y1="275.80" x2="159.30" y2="275.80" stroke="#111" stroke-width="0.8" />
<text x="159.00" y="278.40" font-size="7.1" text-anchor="start" fill="#111" >35</text>
<rect x="39.40" y="282.80" width="117.60" height="13.00" fill="#eeeeee" stroke="#606060" stroke-width="1.1" />
<rect x="56.53" y="283.80" width="2" height="11.00" fill="#f8f8f8" filter="url(#bl)"/>
<rect x="72.70" y="283.80" width="2" height="11.00" fill="#f8f8f8" filter="url(#bl)"/>
<rect x="88.87" y="283.80" width="2" height="11.00" fill="#f8f8f8" filter="url(#bl)"/>
<rect x="105.04" y="283.80" width="2" height="11.00" fill="#f8f8f8" filter="url(#bl)"/>
<rect x="121.21" y="283.80" width="2" height="11.00" fill="#f8f8f8" filter="url(#bl)"/>
<rect x="137.38" y="283.80" width="2" height="11.00" fill="#f8f8f8" filter="url(#bl)"/>
<text x="36.80" y="292.20" font-size="8.3" text-anchor="end" fill="#111" >BCL2</text>
<line x1="157.50" y1="288.00" x2="159.30" y2="288.00" stroke="#111" stroke-width="0.8" />
<text x="159.00" y="290.60" font-size="7.1" text-anchor="start" fill="#111" >25</text>
<rect x="39.40" y="298.80" width="117.60" height="13.80" fill="#eeeeee" stroke="#606060" stroke-width="1.1" />
<rect x="56.53" y="299.80" width="2" height="11.80" fill="#f8f8f8" filter="url(#bl)"/>
<rect x="72.70" y="299.80" width="2" height="11.80" fill="#f8f8f8" filter="url(#bl)"/>
<rect x="88.87" y="299.80" width="2" height="11.80" fill="#f8f8f8" filter="url(#bl)"/>
<rect x="105.04" y="299.80" width="2" height="11.80" fill="#f8f8f8" filter="url(#bl)"/>
<rect x="121.21" y="299.80" width="2" height="11.80" fill="#f8f8f8" filter="url(#bl)"/>
<rect x="137.38" y="299.80" width="2" height="11.80" fill="#f8f8f8" filter="url(#bl)"/>
<text x="36.80" y="308.60" font-size="8.3" text-anchor="end" fill="#111" >ACTIN</text>
<line x1="157.50" y1="308.50" x2="159.30" y2="308.50" stroke="#111" stroke-width="0.8" />
<text x="159.00" y="311.10" font-size="7.1" text-anchor="start" fill="#111" >35</text>
<text x="157.30" y="246.20" font-size="7.6" text-anchor="start" fill="#111" letter-spacing="-0.35">MW (kD)</text>
<path d="M42.85,251.8 Q43.15,255.3 45.65,255.3 L52.45,255.3 Q54.95,255.3 55.25,251.8" fill="none" stroke="#555" stroke-width="3.2" opacity="0.35" filter="url(#bl)"/>
<path d="M42.85,252.2 Q43.15,255.4 45.65,255.4 L52.45,255.4 Q54.95,255.4 55.25,252.8" fill="none" stroke="#050505" stroke-width="2.1" filter="url(#bl)"/>
<path d="M42.15,269.80 Q42.15,267.60 44.35,267.60 Q49.45,273.60 54.55,267.60 Q56.75,267.60 56.75,269.80 L56.75,273.20 Q56.75,275.40 54.55,275.40 Q49.45,275.80 44.35,275.40 Q42.15,275.40 42.15,273.20 Z" fill="#050505" opacity="1.0" filter="url(#bl)"/>
<path d="M43.05,289.20 Q43.05,287.20 45.05,287.20 Q49.45,292.60 53.85,287.20 Q55.85,287.20 55.85,289.20 L55.85,290.50 Q55.85,292.50 53.85,292.50 Q49.45,293.10 45.05,292.50 Q43.05,292.50 43.05,290.50 Z" fill="#050505" opacity="1.0" filter="url(#bl)"/>
<path d="M41.45,305.20 Q41.45,303.00 43.65,303.00 Q49.45,308.20 55.25,303.00 Q57.45,303.00 57.45,305.20 L57.45,307.10 Q57.45,309.30 55.25,309.30 Q49.45,309.90 43.65,309.30 Q41.45,309.30 41.45,307.10 Z" fill="#050505" opacity="1.0" filter="url(#bl)"/>
<path d="M59.22,251.8 Q59.52,255.3 62.02,255.3 L69.22,255.3 Q71.72,255.3 72.02,251.8" fill="none" stroke="#555" stroke-width="3.2" opacity="0.35" filter="url(#bl)"/>
<path d="M59.22,252.2 Q59.52,255.4 62.02,255.4 L69.22,255.4 Q71.72,255.4 72.02,252.8" fill="none" stroke="#050505" stroke-width="2.1" filter="url(#bl)"/>
<path d="M58.32,269.80 Q58.32,267.60 60.52,267.60 Q65.62,273.60 70.72,267.60 Q72.92,267.60 72.92,269.80 L72.92,273.20 Q72.92,275.40 70.72,275.40 Q65.62,275.80 60.52,275.40 Q58.32,275.40 58.32,273.20 Z" fill="#050505" opacity="1.0" filter="url(#bl)"/>
<path d="M59.22,289.20 Q59.22,287.20 61.22,287.20 Q65.62,292.60 70.02,287.20 Q72.02,287.20 72.02,289.20 L72.02,290.50 Q72.02,292.50 70.02,292.50 Q65.62,293.10 61.22,292.50 Q59.22,292.50 59.22,290.50 Z" fill="#050505" opacity="1.0" filter="url(#bl)"/>
<path d="M57.62,305.20 Q57.62,303.00 59.82,303.00 Q65.62,308.20 71.42,303.00 Q73.62,303.00 73.62,305.20 L73.62,307.10 Q73.62,309.30 71.42,309.30 Q65.62,309.90 59.82,309.30 Q57.62,309.30 57.62,307.10 Z" fill="#050505" opacity="1.0" filter="url(#bl)"/>
<rect x="75.79" y="249.4" width="12" height="0.8" fill="#d4d4d4" filter="url(#bl)"/>
<rect x="75.79" y="251.4" width="12" height="0.8" fill="#dcdcdc" filter="url(#bl)"/>
<path d="M74.49,269.80 Q74.49,267.60 76.69,267.60 Q81.79,273.60 86.89,267.60 Q89.09,267.60 89.09,269.80 L89.09,273.20 Q89.09,275.40 86.89,275.40 Q81.79,275.80 76.69,275.40 Q74.49,275.40 74.49,273.20 Z" fill="#050505" opacity="1.0" filter="url(#bl)"/>
<path d="M75.39,289.20 Q75.39,287.20 77.39,287.20 Q81.79,292.60 86.19,287.20 Q88.19,287.20 88.19,289.20 L88.19,290.50 Q88.19,292.50 86.19,292.50 Q81.79,293.10 77.39,292.50 Q75.39,292.50 75.39,290.50 Z" fill="#050505" opacity="1.0" filter="url(#bl)"/>
<path d="M73.79,305.20 Q73.79,303.00 75.99,303.00 Q81.79,308.20 87.59,303.00 Q89.79,303.00 89.79,305.20 L89.79,307.10 Q89.79,309.30 87.59,309.30 Q81.79,309.90 75.99,309.30 Q73.79,309.30 73.79,307.10 Z" fill="#050505" opacity="1.0" filter="url(#bl)"/>
<rect x="91.96" y="249.4" width="12" height="0.8" fill="#d4d4d4" filter="url(#bl)"/>
<rect x="91.96" y="251.4" width="12" height="0.8" fill="#dcdcdc" filter="url(#bl)"/>
<path d="M90.66,269.80 Q90.66,267.60 92.86,267.60 Q97.96,273.60 103.06,267.60 Q105.26,267.60 105.26,269.80 L105.26,273.20 Q105.26,275.40 103.06,275.40 Q97.96,275.80 92.86,275.40 Q90.66,275.40 90.66,273.20 Z" fill="#050505" opacity="1.0" filter="url(#bl)"/>
<path d="M91.56,289.20 Q91.56,287.20 93.56,287.20 Q97.96,292.60 102.36,287.20 Q104.36,287.20 104.36,289.20 L104.36,290.50 Q104.36,292.50 102.36,292.50 Q97.96,293.10 93.56,292.50 Q91.56,292.50 91.56,290.50 Z" fill="#050505" opacity="1.0" filter="url(#bl)"/>
<path d="M89.96,305.20 Q89.96,303.00 92.16,303.00 Q97.96,308.20 103.76,303.00 Q105.96,303.00 105.96,305.20 L105.96,307.10 Q105.96,309.30 103.76,309.30 Q97.96,309.90 92.16,309.30 Q89.96,309.30 89.96,307.10 Z" fill="#050505" opacity="1.0" filter="url(#bl)"/>
<rect x="108.13" y="249.4" width="12" height="0.8" fill="#d4d4d4" filter="url(#bl)"/>
<rect x="108.13" y="251.4" width="12" height="0.8" fill="#dcdcdc" filter="url(#bl)"/>
<path d="M106.83,269.80 Q106.83,267.60 109.03,267.60 Q114.13,273.60 119.23,267.60 Q121.43,267.60 121.43,269.80 L121.43,273.20 Q121.43,275.40 119.23,275.40 Q114.13,275.80 109.03,275.40 Q106.83,275.40 106.83,273.20 Z" fill="#050505" opacity="1.0" filter="url(#bl)"/>
<path d="M107.73,289.20 Q107.73,287.20 109.73,287.20 Q114.13,292.60 118.53,287.20 Q120.53,287.20 120.53,289.20 L120.53,290.50 Q120.53,292.50 118.53,292.50 Q114.13,293.10 109.73,292.50 Q107.73,292.50 107.73,290.50 Z" fill="#050505" opacity="1.0" filter="url(#bl)"/>
<path d="M106.13,305.20 Q106.13,303.00 108.33,303.00 Q114.13,308.20 119.93,303.00 Q122.13,303.00 122.13,305.20 L122.13,307.10 Q122.13,309.30 119.93,309.30 Q114.13,309.90 108.33,309.30 Q106.13,309.30 106.13,307.10 Z" fill="#050505" opacity="1.0" filter="url(#bl)"/>
<rect x="124.30" y="249.4" width="12" height="0.8" fill="#d4d4d4" filter="url(#bl)"/>
<rect x="124.30" y="251.4" width="12" height="0.8" fill="#dcdcdc" filter="url(#bl)"/>
<path d="M123.00,269.80 Q123.00,267.60 125.20,267.60 Q130.30,273.60 135.40,267.60 Q137.60,267.60 137.60,269.80 L137.60,273.20 Q137.60,275.40 135.40,275.40 Q130.30,275.80 125.20,275.40 Q123.00,275.40 123.00,273.20 Z" fill="#050505" opacity="1.0" filter="url(#bl)"/>
<path d="M123.90,289.20 Q123.90,287.20 125.90,287.20 Q130.30,292.60 134.70,287.20 Q136.70,287.20 136.70,289.20 L136.70,290.50 Q136.70,292.50 134.70,292.50 Q130.30,293.10 125.90,292.50 Q123.90,292.50 123.90,290.50 Z" fill="#050505" opacity="1.0" filter="url(#bl)"/>
<path d="M122.30,305.20 Q122.30,303.00 124.50,303.00 Q130.30,308.20 136.10,303.00 Q138.30,303.00 138.30,305.20 L138.30,307.10 Q138.30,309.30 136.10,309.30 Q130.30,309.90 124.50,309.30 Q122.30,309.30 122.30,307.10 Z" fill="#050505" opacity="1.0" filter="url(#bl)"/>
<rect x="140.47" y="249.4" width="12" height="0.8" fill="#d4d4d4" filter="url(#bl)"/>
<rect x="140.47" y="251.4" width="12" height="0.8" fill="#dcdcdc" filter="url(#bl)"/>
<path d="M139.17,270.50 Q139.17,268.50 141.17,268.50 Q146.47,275.50 151.77,268.50 Q153.77,268.50 153.77,270.50 L153.77,274.20 Q153.77,276.20 151.77,276.20 Q146.47,276.60 141.17,276.20 Q139.17,276.20 139.17,274.20 Z" fill="#050505" opacity="1.0" filter="url(#bl)"/>
<path d="M140.07,289.20 Q140.07,287.20 142.07,287.20 Q146.47,292.60 150.87,287.20 Q152.87,287.20 152.87,289.20 L152.87,290.50 Q152.87,292.50 150.87,292.50 Q146.47,293.10 142.07,292.50 Q140.07,292.50 140.07,290.50 Z" fill="#050505" opacity="1.0" filter="url(#bl)"/>
<path d="M138.47,305.20 Q138.47,303.00 140.67,303.00 Q146.47,308.20 152.27,303.00 Q154.47,303.00 154.47,305.20 L154.47,307.10 Q154.47,309.30 152.27,309.30 Q146.47,309.90 140.67,309.30 Q138.47,309.30 138.47,307.10 Z" fill="#050505" opacity="1.0" filter="url(#bl)"/>
<text x="267.90" y="171.00" font-size="12.5" text-anchor="start" fill="#111" >D</text>
<text x="334.00" y="169.50" font-size="8.1" fill="#111">OCI-LY19 (<tspan font-style="italic">KMT2D</tspan><tspan font-size="4.6" dy="-3.2" font-style="italic" style="stroke-width:0px">mut</tspan><tspan dy="3.2">)</tspan></text>
<line x1="300.60" y1="182.90" x2="300.60" y2="283.90" stroke="#111" stroke-width="1.1" />
<line x1="300.10" y1="283.40" x2="473.50" y2="283.40" stroke="#111" stroke-width="1.1" />
<line x1="295.10" y1="283.40" x2="300.60" y2="283.40" stroke="#111" stroke-width="1" />
<text x="292.00" y="286.30" font-size="8.3" text-anchor="end" fill="#111" >0</text>
<line x1="295.10" y1="258.40" x2="300.60" y2="258.40" stroke="#111" stroke-width="1" />
<text x="292.00" y="261.30" font-size="8.3" text-anchor="end" fill="#111" >20</text>
<line x1="295.10" y1="233.40" x2="300.60" y2="233.40" stroke="#111" stroke-width="1" />
<text x="292.00" y="236.30" font-size="8.3" text-anchor="end" fill="#111" >40</text>
<line x1="295.10" y1="208.40" x2="300.60" y2="208.40" stroke="#111" stroke-width="1" />
<text x="292.00" y="211.30" font-size="8.3" text-anchor="end" fill="#111" >60</text>
<line x1="295.10" y1="183.40" x2="300.60" y2="183.40" stroke="#111" stroke-width="1" />
<text x="292.00" y="186.30" font-size="8.3" text-anchor="end" fill="#111" >80</text>
<text x="277.00" y="231.50" font-size="8.15" text-anchor="middle" fill="#111" transform="rotate(-90 277.00 231.50)" >Annexin V postive cells (%)</text>
<line x1="315.65" y1="276.90" x2="315.65" y2="278.40" stroke="#111" stroke-width="1" />
<line x1="312.85" y1="276.90" x2="318.45" y2="276.90" stroke="#111" stroke-width="1" />
<rect x="309.00" y="278.90" width="13.30" height="4.50" fill="#000" stroke="#111" stroke-width="1" />
<line x1="315.65" y1="283.40" x2="315.65" y2="287.90" stroke="#111" stroke-width="1" />
<line x1="338.20" y1="193.40" x2="338.20" y2="195.27" stroke="#111" stroke-width="1" />
<line x1="335.40" y1="193.40" x2="341.00" y2="193.40" stroke="#111" stroke-width="1" />
<rect x="331.50" y="195.77" width="13.40" height="87.62" fill="#000" stroke="#111" stroke-width="1" />
<line x1="338.20" y1="283.40" x2="338.20" y2="287.90" stroke="#111" stroke-width="1" />
<line x1="376.15" y1="276.27" x2="376.15" y2="278.15" stroke="#111" stroke-width="1" />
<line x1="373.35" y1="276.27" x2="378.95" y2="276.27" stroke="#111" stroke-width="1" />
<rect x="369.90" y="278.65" width="12.50" height="4.75" fill="#b9b9b9" stroke="#111" stroke-width="1" />
<line x1="376.15" y1="283.40" x2="376.15" y2="287.90" stroke="#111" stroke-width="1" />
<line x1="398.55" y1="263.65" x2="398.55" y2="265.90" stroke="#111" stroke-width="1" />
<line x1="395.75" y1="263.65" x2="401.35" y2="263.65" stroke="#111" stroke-width="1" />
<rect x="392.30" y="266.40" width="12.50" height="17.00" fill="#b9b9b9" stroke="#111" stroke-width="1" />
<line x1="398.55" y1="283.40" x2="398.55" y2="287.90" stroke="#111" stroke-width="1" />
<line x1="435.90" y1="276.77" x2="435.90" y2="278.02" stroke="#111" stroke-width="1" />
<line x1="433.10" y1="276.77" x2="438.70" y2="276.77" stroke="#111" stroke-width="1" />
<rect x="429.70" y="278.52" width="12.40" height="4.88" fill="#979797" stroke="#111" stroke-width="1" />
<line x1="435.90" y1="283.40" x2="435.90" y2="287.90" stroke="#111" stroke-width="1" />
<line x1="458.25" y1="257.15" x2="458.25" y2="259.65" stroke="#111" stroke-width="1" />
<line x1="455.45" y1="257.15" x2="461.05" y2="257.15" stroke="#111" stroke-width="1" />
<rect x="452.00" y="260.15" width="12.50" height="23.25" fill="#979797" stroke="#111" stroke-width="1" />
<line x1="458.25" y1="283.40" x2="458.25" y2="287.90" stroke="#111" stroke-width="1" />
<rect x="392.30" y="180.20" width="13.50" height="7.00" fill="#000" stroke="#111" stroke-width="1" />
<text x="413.90" y="186.60" font-size="8" fill="#111">sg<tspan font-style="italic">LacZ</tspan></text>
<rect x="392.30" y="193.85" width="13.50" height="7.00" fill="#b9b9b9" stroke="#111" stroke-width="1" />
<text x="413.90" y="200.25" font-size="8" fill="#111"><tspan font-style="italic">SETD1B</tspan> sg1 Clone 1</text>
<rect x="392.30" y="207.50" width="13.50" height="7.00" fill="#979797" stroke="#111" stroke-width="1" />
<text x="413.90" y="213.90" font-size="8" fill="#111"><tspan font-style="italic">SETD1B</tspan> sg2 Clone 1</text>
<text x="269.10" y="351.00" font-size="12.5" text-anchor="start" fill="#111" >F</text>
<text x="346.50" y="348.00" font-size="8.0" fill="#111">OCI-LY8 (<tspan font-style="italic">KMT2D</tspan><tspan font-size="4.6" dy="-3.2" font-style="italic" style="stroke-width:0px">WT</tspan><tspan dy="3.2">)</tspan></text>
<line x1="302.90" y1="354.90" x2="302.90" y2="471.40" stroke="#111" stroke-width="1.1" />
<line x1="302.40" y1="470.90" x2="454.00" y2="470.90" stroke="#111" stroke-width="1.1" />
<line x1="297.90" y1="470.90" x2="302.90" y2="470.90" stroke="#111" stroke-width="1" />
<text x="296.50" y="473.80" font-size="8.3" text-anchor="end" fill="#111" >0</text>
<line x1="297.90" y1="447.80" x2="302.90" y2="447.80" stroke="#111" stroke-width="1" />
<text x="296.50" y="450.70" font-size="8.3" text-anchor="end" fill="#111" >20</text>
<line x1="297.90" y1="424.70" x2="302.90" y2="424.70" stroke="#111" stroke-width="1" />
<text x="296.50" y="427.60" font-size="8.3" text-anchor="end" fill="#111" >40</text>
<line x1="297.90" y1="401.60" x2="302.90" y2="401.60" stroke="#111" stroke-width="1" />
<text x="296.50" y="404.50" font-size="8.3" text-anchor="end" fill="#111" >60</text>
<line x1="297.90" y1="378.50" x2="302.90" y2="378.50" stroke="#111" stroke-width="1" />
<text x="296.50" y="381.40" font-size="8.3" text-anchor="end" fill="#111" >80</text>
<line x1="297.90" y1="355.40" x2="302.90" y2="355.40" stroke="#111" stroke-width="1" />
<text x="296.50" y="358.30" font-size="8.3" text-anchor="end" fill="#111" >100</text>
<text x="276.60" y="406.50" font-size="8.25" text-anchor="middle" fill="#111" transform="rotate(-90 276.60 406.50)" >Annexin V postive cells (%)</text>
<line x1="316.25" y1="463.62" x2="316.25" y2="466.28" stroke="#111" stroke-width="1" />
<line x1="313.45" y1="463.62" x2="319.05" y2="463.62" stroke="#111" stroke-width="1" />
<rect x="310.70" y="466.78" width="11.10" height="4.12" fill="#000" stroke="#111" stroke-width="1" />
<line x1="316.25" y1="470.90" x2="316.25" y2="475.40" stroke="#111" stroke-width="1" />
<line x1="335.95" y1="370.41" x2="335.95" y2="372.15" stroke="#111" stroke-width="1" />
<line x1="333.15" y1="370.41" x2="338.75" y2="370.41" stroke="#111" stroke-width="1" />
<rect x="330.10" y="372.65" width="11.70" height="98.25" fill="#000" stroke="#111" stroke-width="1" />
<line x1="335.95" y1="470.90" x2="335.95" y2="475.40" stroke="#111" stroke-width="1" />
<line x1="368.50" y1="461.43" x2="368.50" y2="463.97" stroke="#111" stroke-width="1" />
<line x1="365.70" y1="461.43" x2="371.30" y2="461.43" stroke="#111" stroke-width="1" />
<rect x="363.00" y="464.47" width="11.00" height="6.43" fill="#b9b9b9" stroke="#111" stroke-width="1" />
<line x1="368.50" y1="470.90" x2="368.50" y2="475.40" stroke="#111" stroke-width="1" />
<line x1="388.40" y1="429.44" x2="388.40" y2="431.98" stroke="#111" stroke-width="1" />
<line x1="385.60" y1="429.44" x2="391.20" y2="429.44" stroke="#111" stroke-width="1" />
<rect x="383.00" y="432.48" width="10.80" height="38.42" fill="#b9b9b9" stroke="#111" stroke-width="1" />
<line x1="388.40" y1="470.90" x2="388.40" y2="475.40" stroke="#111" stroke-width="1" />
<line x1="420.90" y1="449.99" x2="420.90" y2="454.96" stroke="#111" stroke-width="1" />
<line x1="418.10" y1="449.99" x2="423.70" y2="449.99" stroke="#111" stroke-width="1" />
<rect x="415.50" y="455.46" width="10.80" height="15.44" fill="#979797" stroke="#111" stroke-width="1" />
<line x1="420.90" y1="470.90" x2="420.90" y2="475.40" stroke="#111" stroke-width="1" />
<line x1="440.65" y1="420.66" x2="440.65" y2="426.20" stroke="#111" stroke-width="1" />
<line x1="437.85" y1="420.66" x2="443.45" y2="420.66" stroke="#111" stroke-width="1" />
<rect x="435.00" y="426.70" width="11.30" height="44.20" fill="#979797" stroke="#111" stroke-width="1" />
<line x1="440.65" y1="470.90" x2="440.65" y2="475.40" stroke="#111" stroke-width="1" />
<rect x="375.00" y="370.50" width="12.50" height="6.00" fill="#000" stroke="#111" stroke-width="1" />
<text x="394.50" y="376.40" font-size="8" fill="#111">sg<tspan font-style="italic">LacZ</tspan></text>
<rect x="375.00" y="382.35" width="12.50" height="6.00" fill="#b9b9b9" stroke="#111" stroke-width="1" />
<text x="394.50" y="388.25" font-size="8" fill="#111"><tspan font-style="italic">SETD1B</tspan> sg1 clone 1</text>
<rect x="375.00" y="394.20" width="12.50" height="6.00" fill="#979797" stroke="#111" stroke-width="1" />
<text x="394.50" y="400.10" font-size="8" fill="#111"><tspan font-style="italic">SETD1B</tspan> sg2 clone 1</text>
<text x="323.65" y="296.40" font-size="8" text-anchor="end" fill="#111" transform="rotate(-45 323.65 296.40)">DMSO</text>
<text x="342.70" y="296.40" font-size="8" text-anchor="end" fill="#111" transform="rotate(-45 342.70 296.40)">Venetoclax</text>
<text x="384.15" y="296.40" font-size="8" text-anchor="end" fill="#111" transform="rotate(-45 384.15 296.40)">DMSO</text>
<text x="403.05" y="296.40" font-size="8" text-anchor="end" fill="#111" transform="rotate(-45 403.05 296.40)">Venetoclax</text>
<text x="443.90" y="296.40" font-size="8" text-anchor="end" fill="#111" transform="rotate(-45 443.90 296.40)">DMSO</text>
<text x="462.75" y="296.40" font-size="8" text-anchor="end" fill="#111" transform="rotate(-45 462.75 296.40)">Venetoclax</text>
<text x="317.75" y="482.90" font-size="8" text-anchor="end" fill="#111" transform="rotate(-45 317.75 482.90)">DMSO</text>
<text x="334.45" y="482.90" font-size="8" text-anchor="end" fill="#111" transform="rotate(-45 334.45 482.90)">Venetoclax</text>
<text x="370.00" y="482.90" font-size="8" text-anchor="end" fill="#111" transform="rotate(-45 370.00 482.90)">DMSO</text>
<text x="386.90" y="482.90" font-size="8" text-anchor="end" fill="#111" transform="rotate(-45 386.90 482.90)">Venetoclax</text>
<text x="422.40" y="482.90" font-size="8" text-anchor="end" fill="#111" transform="rotate(-45 422.40 482.90)">DMSO</text>
<text x="439.15" y="482.90" font-size="8" text-anchor="end" fill="#111" transform="rotate(-45 439.15 482.90)">Venetoclax</text>
<text x="-1.10" y="351.00" font-size="12.5" text-anchor="start" fill="#111" >E</text>
<text x="75.20" y="348.80" font-size="8.0" fill="#111">OCI-LY8 (<tspan font-style="italic">KMT2D</tspan><tspan font-size="4.6" dy="-3.2" font-style="italic" style="stroke-width:0px">WT</tspan><tspan dy="3.2">)</tspan></text>
<line x1="31.30" y1="362.80" x2="31.30" y2="461.30" stroke="#111" stroke-width="1.1" />
<line x1="30.80" y1="460.80" x2="205.00" y2="460.80" stroke="#111" stroke-width="1.1" />
<line x1="28.50" y1="460.80" x2="31.30" y2="460.80" stroke="#111" stroke-width="1" />
<text x="27.70" y="462.40" font-size="7.3" text-anchor="end" fill="#111" >0</text>
<line x1="28.50" y1="444.55" x2="31.30" y2="444.55" stroke="#111" stroke-width="1" />
<text x="27.70" y="446.15" font-size="7.3" text-anchor="end" fill="#111" >20</text>
<line x1="28.50" y1="428.30" x2="31.30" y2="428.30" stroke="#111" stroke-width="1" />
<text x="27.70" y="429.90" font-size="7.3" text-anchor="end" fill="#111" >40</text>
<line x1="28.50" y1="412.05" x2="31.30" y2="412.05" stroke="#111" stroke-width="1" />
<text x="27.70" y="413.65" font-size="7.3" text-anchor="end" fill="#111" >60</text>
<line x1="28.50" y1="395.80" x2="31.30" y2="395.80" stroke="#111" stroke-width="1" />
<text x="27.70" y="397.40" font-size="7.3" text-anchor="end" fill="#111" >80</text>
<line x1="28.50" y1="379.55" x2="31.30" y2="379.55" stroke="#111" stroke-width="1" />
<text x="27.70" y="381.15" font-size="7.3" text-anchor="end" fill="#111" >100</text>
<line x1="28.50" y1="363.30" x2="31.30" y2="363.30" stroke="#111" stroke-width="1" />
<text x="27.70" y="364.90" font-size="7.3" text-anchor="end" fill="#111" >120</text>
<line x1="45.00" y1="460.80" x2="45.00" y2="463.30" stroke="#111" stroke-width="1" />
<text x="45.00" y="471.80" font-size="7.8" text-anchor="middle" fill="#111" >-4</text>
<line x1="98.00" y1="460.80" x2="98.00" y2="463.30" stroke="#111" stroke-width="1" />
<text x="98.00" y="471.80" font-size="7.8" text-anchor="middle" fill="#111" >-2</text>
<line x1="151.00" y1="460.80" x2="151.00" y2="463.30" stroke="#111" stroke-width="1" />
<text x="151.00" y="471.80" font-size="7.8" text-anchor="middle" fill="#111" >0</text>
<line x1="204.00" y1="460.80" x2="204.00" y2="463.30" stroke="#111" stroke-width="1" />
<text x="204.00" y="471.80" font-size="7.8" text-anchor="middle" fill="#111" >2</text>
<text x="79.2" y="483.8" font-size="8.3" fill="#111">Venetoclax (log<tspan font-size="5" dy="2" style="stroke-width:0.1px">10</tspan><tspan dy="-2">, µM)</tspan></text>
<text x="7.30" y="407.20" font-size="8.1" text-anchor="middle" fill="#111" transform="rotate(-90 7.30 407.20)" >Viable cells (% of DMSO)</text>
<polyline points="45.00,377.14 46.66,377.14 48.31,377.15 49.97,377.16 51.62,377.16 53.28,377.17 54.94,377.18 56.59,377.20 58.25,377.21 59.91,377.23 61.56,377.25 63.22,377.27 64.88,377.30 66.53,377.34 68.19,377.38 69.84,377.42 71.50,377.48 73.16,377.54 74.81,377.62 76.47,377.71 78.12,377.82 79.78,377.94 81.44,378.09 83.09,378.27 84.75,378.47 86.41,378.71 88.06,378.99 89.72,379.32 91.38,379.71 93.03,380.16 94.69,380.68 96.34,381.29 98.00,382.00 99.66,382.82 101.31,383.76 102.97,384.85 104.62,386.09 106.28,387.51 107.94,389.11 109.59,390.92 111.25,392.93 112.91,395.16 114.56,397.62 116.22,400.29 117.88,403.16 119.53,406.22 121.19,409.43 122.84,412.77 124.50,416.19 126.16,419.65 127.81,423.10 129.47,426.49 131.12,429.78 132.78,432.94 134.44,435.93 136.09,438.72 137.75,441.30 139.41,443.67 141.06,445.81 142.72,447.74 144.38,449.46 146.03,450.99 147.69,452.34 149.34,453.51 151.00,454.54 152.66,455.44 154.31,456.21 155.97,456.88 157.62,457.45 159.28,457.94 160.94,458.37 162.59,458.73 164.25,459.04 165.91,459.30 167.56,459.53 169.22,459.72 170.88,459.88 172.53,460.02 174.19,460.14 175.84,460.24 177.50,460.32" fill="none" stroke="#8c3a9c" stroke-width="1.3"/>
<polyline points="45.00,377.11 46.66,377.11 48.31,377.11 49.97,377.12 51.62,377.12 53.28,377.12 54.94,377.12 56.59,377.12 58.25,377.12 59.91,377.12 61.56,377.12 63.22,377.12 64.88,377.13 66.53,377.13 68.19,377.13 69.84,377.13 71.50,377.14 73.16,377.14 74.81,377.15 76.47,377.16 78.12,377.17 79.78,377.18 81.44,377.19 83.09,377.20 84.75,377.22 86.41,377.24 88.06,377.26 89.72,377.29 91.38,377.33 93.03,377.37 94.69,377.42 96.34,377.47 98.00,377.54 99.66,377.62 101.31,377.72 102.97,377.84 104.62,377.97 106.28,378.13 107.94,378.32 109.59,378.55 111.25,378.82 112.91,379.14 114.56,379.51 116.22,379.95 117.88,380.47 119.53,381.08 121.19,381.80 122.84,382.63 124.50,383.60 126.16,384.73 127.81,386.03 129.47,387.53 131.12,389.24 132.78,391.17 134.44,393.35 136.09,395.79 137.75,398.47 139.41,401.41 141.06,404.59 142.72,407.97 144.38,411.54 146.03,415.24 147.69,419.03 149.34,422.85 151.00,426.64 152.66,430.35 154.31,433.92 155.97,437.31 157.62,440.49 159.28,443.43 160.94,446.13 162.59,448.57 164.25,450.75 165.91,452.69 167.56,454.41 169.22,455.91 170.88,457.21 172.53,458.35 174.19,459.32 175.84,460.16 177.50,460.80" fill="none" stroke="#2060f0" stroke-width="1.3"/>
<polyline points="45.00,377.12 46.66,377.12 48.31,377.12 49.97,377.12 51.62,377.13 53.28,377.13 54.94,377.13 56.59,377.13 58.25,377.14 59.91,377.14 61.56,377.15 63.22,377.15 64.88,377.16 66.53,377.17 68.19,377.17 69.84,377.18 71.50,377.20 73.16,377.21 74.81,377.23 76.47,377.25 78.12,377.27 79.78,377.29 81.44,377.33 83.09,377.36 84.75,377.40 86.41,377.45 88.06,377.51 89.72,377.57 91.38,377.65 93.03,377.74 94.69,377.84 96.34,377.97 98.00,378.11 99.66,378.27 101.31,378.46 102.97,378.68 104.62,378.94 106.28,379.24 107.94,379.59 109.59,379.99 111.25,380.46 112.91,380.99 114.56,381.61 116.22,382.32 117.88,383.13 119.53,384.06 121.19,385.12 122.84,386.32 124.50,387.68 126.16,389.20 127.81,390.91 129.47,392.81 131.12,394.91 132.78,397.21 134.44,399.71 136.09,402.41 137.75,405.29 139.41,408.33 141.06,411.51 142.72,414.80 144.38,418.16 146.03,421.56 147.69,424.95 149.34,428.29 151.00,431.55 152.66,434.69 154.31,437.68 155.97,440.50 157.62,443.13 159.28,445.56 160.94,447.79 162.59,449.83 164.25,451.66 165.91,453.31 167.56,454.77 169.22,456.08 170.88,457.23 172.53,458.24 174.19,459.13 175.84,459.91 177.50,460.58" fill="none" stroke="#111111" stroke-width="1.3"/>
<polyline points="45.00,381.18 46.66,381.18 48.31,381.18 49.97,381.18 51.62,381.18 53.28,381.18 54.94,381.18 56.59,381.18 58.25,381.18 59.91,381.18 61.56,381.18 63.22,381.18 64.88,381.19 66.53,381.19 68.19,381.19 69.84,381.19 71.50,381.20 73.16,381.20 74.81,381.20 76.47,381.21 78.12,381.22 79.78,381.23 81.44,381.23 83.09,381.25 84.75,381.26 86.41,381.28 88.06,381.29 89.72,381.32 91.38,381.34 93.03,381.37 94.69,381.41 96.34,381.46 98.00,381.51 99.66,381.57 101.31,381.65 102.97,381.74 104.62,381.84 106.28,381.97 107.94,382.11 109.59,382.29 111.25,382.49 112.91,382.74 114.56,383.03 116.22,383.37 117.88,383.77 119.53,384.24 121.19,384.79 122.84,385.43 124.50,386.19 126.16,387.07 127.81,388.09 129.47,389.27 131.12,390.62 132.78,392.17 134.44,393.93 136.09,395.92 137.75,398.14 139.41,400.60 141.06,403.30 142.72,406.24 144.38,409.39 146.03,412.72 147.69,416.20 149.34,419.79 151.00,423.43 152.66,427.06 154.31,430.65 155.97,434.13 157.62,437.46 159.28,440.61 160.94,443.55 162.59,446.25 164.25,448.71 165.91,450.93 167.56,452.92 169.22,454.68 170.88,456.23 172.53,457.58 174.19,458.76 175.84,459.78 177.50,460.66" fill="none" stroke="#80f040" stroke-width="1.3"/>
<polyline points="45.00,377.11 46.66,377.11 48.31,377.11 49.97,377.11 51.62,377.11 53.28,377.11 54.94,377.11 56.59,377.11 58.25,377.11 59.91,377.11 61.56,377.11 63.22,377.11 64.88,377.11 66.53,377.11 68.19,377.11 69.84,377.12 71.50,377.12 73.16,377.12 74.81,377.12 76.47,377.12 78.12,377.12 79.78,377.12 81.44,377.12 83.09,377.13 84.75,377.13 86.41,377.13 88.06,377.14 89.72,377.14 91.38,377.15 93.03,377.16 94.69,377.17 96.34,377.18 98.00,377.20 99.66,377.22 101.31,377.25 102.97,377.28 104.62,377.32 106.28,377.37 107.94,377.43 109.59,377.50 111.25,377.59 112.91,377.70 114.56,377.83 116.22,378.00 117.88,378.21 119.53,378.46 121.19,378.77 122.84,379.14 124.50,379.61 126.16,380.17 127.81,380.85 129.47,381.68 131.12,382.68 132.78,383.88 134.44,385.31 136.09,387.00 137.75,389.00 139.41,391.32 141.06,393.99 142.72,397.02 144.38,400.42 146.03,404.15 147.69,408.19 149.34,412.48 151.00,416.92 152.66,421.44 154.31,425.93 155.97,430.30 157.62,434.45 159.28,438.33 160.94,441.88 162.59,445.07 164.25,447.90 165.91,450.37 167.56,452.51 169.22,454.33 170.88,455.88 172.53,457.17 174.19,458.25 175.84,459.15 177.50,459.90" fill="none" stroke="#f0361c" stroke-width="1.3"/>
<polyline points="45.00,377.14 46.66,377.15 48.31,377.15 49.97,377.16 51.62,377.17 53.28,377.18 54.94,377.19 56.59,377.21 58.25,377.22 59.91,377.24 61.56,377.26 63.22,377.29 64.88,377.32 66.53,377.36 68.19,377.41 69.84,377.46 71.50,377.52 73.16,377.59 74.81,377.67 76.47,377.77 78.12,377.89 79.78,378.03 81.44,378.19 83.09,378.37 84.75,378.59 86.41,378.85 88.06,379.15 89.72,379.51 91.38,379.92 93.03,380.40 94.69,380.95 96.34,381.60 98.00,382.35 99.66,383.21 101.31,384.20 102.97,385.34 104.62,386.64 106.28,388.11 107.94,389.77 109.59,391.62 111.25,393.69 112.91,395.98 114.56,398.47 116.22,401.18 117.88,404.08 119.53,407.15 121.19,410.37 122.84,413.70 124.50,417.10 126.16,420.52 127.81,423.92 129.47,427.25 131.12,430.48 132.78,433.57 134.44,436.49 136.09,439.21 137.75,441.72 139.41,444.03 141.06,446.11 142.72,447.99 144.38,449.67 146.03,451.15 147.69,452.47 149.34,453.62 151.00,454.62 152.66,455.49 154.31,456.25 155.97,456.91 157.62,457.47 159.28,457.96 160.94,458.37 162.59,458.73 164.25,459.04 165.91,459.30 167.56,459.52 169.22,459.71 170.88,459.87 172.53,460.01 174.19,460.13 175.84,460.23 177.50,460.32" fill="none" stroke="#8c3a7c" stroke-width="1.3"/>
<polyline points="45.00,377.13 46.66,377.14 48.31,377.14 49.97,377.14 51.62,377.15 53.28,377.16 54.94,377.17 56.59,377.18 58.25,377.19 59.91,377.21 61.56,377.22 63.22,377.24 64.88,377.27 66.53,377.30 68.19,377.33 69.84,377.38 71.50,377.43 73.16,377.49 74.81,377.56 76.47,377.64 78.12,377.74 79.78,377.86 81.44,378.00 83.09,378.17 84.75,378.37 86.41,378.61 88.06,378.89 89.72,379.22 91.38,379.61 93.03,380.07 94.69,380.62 96.34,381.25 98.00,382.00 99.66,382.87 101.31,383.88 102.97,385.05 104.62,386.40 106.28,387.95 107.94,389.71 109.59,391.70 111.25,393.93 112.91,396.40 114.56,399.12 116.22,402.08 117.88,405.25 119.53,408.60 121.19,412.11 122.84,415.71 124.50,419.37 126.16,423.01 127.81,426.60 129.47,430.08 131.12,433.39 132.78,436.52 134.44,439.42 136.09,442.08 137.75,444.50 139.41,446.68 141.06,448.62 142.72,450.33 144.38,451.83 146.03,453.14 147.69,454.27 149.34,455.25 151.00,456.09 152.66,456.81 154.31,457.43 155.97,457.95 157.62,458.39 159.28,458.77 160.94,459.09 162.59,459.36 164.25,459.59 165.91,459.78 167.56,459.94 169.22,460.08 170.88,460.19 172.53,460.29 174.19,460.37 175.84,460.44 177.50,460.50" fill="none" stroke="#111111" stroke-width="1.3" stroke-dasharray="4,2.5"/>
<circle cx="45.00" cy="377.13" r="1.70" fill="#111"/>
<circle cx="71.50" cy="377.43" r="1.70" fill="#111"/>
<line x1="98.00" y1="380.00" x2="98.00" y2="384.00" stroke="#111" stroke-width="0.9" />
<line x1="96.20" y1="380.00" x2="99.80" y2="380.00" stroke="#111" stroke-width="0.9" />
<line x1="96.20" y1="384.00" x2="99.80" y2="384.00" stroke="#111" stroke-width="0.9" />
<circle cx="98.00" cy="382.00" r="1.70" fill="#111"/>
<circle cx="124.50" cy="419.37" r="1.70" fill="#111"/>
<circle cx="151.00" cy="456.09" r="1.70" fill="#111"/>
<circle cx="177.50" cy="460.50" r="1.70" fill="#111"/>
<line x1="45.00" y1="375.14" x2="45.00" y2="379.14" stroke="#8c3a7c" stroke-width="0.9" />
<line x1="43.20" y1="375.14" x2="46.80" y2="375.14" stroke="#8c3a7c" stroke-width="0.9" />
<line x1="43.20" y1="379.14" x2="46.80" y2="379.14" stroke="#8c3a7c" stroke-width="0.9" />
<polygon points="45.00,375.10 46.70,377.14 45.00,379.18 43.30,377.14" fill="#8c3a7c"/>
<line x1="71.50" y1="375.52" x2="71.50" y2="379.52" stroke="#8c3a7c" stroke-width="0.9" />
<line x1="69.70" y1="375.52" x2="73.30" y2="375.52" stroke="#8c3a7c" stroke-width="0.9" />
<line x1="69.70" y1="379.52" x2="73.30" y2="379.52" stroke="#8c3a7c" stroke-width="0.9" />
<polygon points="71.50,375.48 73.20,377.52 71.50,379.56 69.80,377.52" fill="#8c3a7c"/>
<polygon points="98.00,380.31 99.70,382.35 98.00,384.39 96.30,382.35" fill="#8c3a7c"/>
<polygon points="124.50,415.06 126.20,417.10 124.50,419.14 122.80,417.10" fill="#8c3a7c"/>
<polygon points="151.00,452.58 152.70,454.62 151.00,456.66 149.30,454.62" fill="#8c3a7c"/>
<polygon points="177.50,458.28 179.20,460.32 177.50,462.36 175.80,460.32" fill="#8c3a7c"/>
<polygon points="45.00,378.98 43.30,375.75 46.70,375.75" fill="#e03030"/>
<polygon points="71.50,378.99 69.80,375.76 73.20,375.76" fill="#e03030"/>
<polygon points="98.00,379.07 96.30,375.84 99.70,375.84" fill="#e03030"/>
<line x1="124.50" y1="376.11" x2="124.50" y2="383.11" stroke="#c03080" stroke-width="0.9" />
<line x1="122.70" y1="376.11" x2="126.30" y2="376.11" stroke="#c03080" stroke-width="0.9" />
<line x1="122.70" y1="383.11" x2="126.30" y2="383.11" stroke="#c03080" stroke-width="0.9" />
<polygon points="124.50,381.48 122.80,378.25 126.20,378.25" fill="#e03030"/>
<polygon points="151.00,418.79 149.30,415.56 152.70,415.56" fill="#e03030"/>
<polygon points="177.50,461.77 175.80,458.54 179.20,458.54" fill="#e03030"/>
<polygon points="45.00,378.97 45.68,380.67 47.21,380.67 46.02,381.69 46.53,383.22 45.00,382.37 43.47,383.22 43.98,381.69 42.79,380.67 44.32,380.67" fill="#80f040"/>
<polygon points="71.50,378.99 72.18,380.69 73.71,380.69 72.52,381.71 73.03,383.24 71.50,382.39 69.97,383.24 70.48,381.71 69.29,380.69 70.82,380.69" fill="#80f040"/>
<polygon points="98.00,379.30 98.68,381.00 100.21,381.00 99.02,382.02 99.53,383.55 98.00,382.70 96.47,383.55 96.98,382.02 95.79,381.00 97.32,381.00" fill="#80f040"/>
<line x1="124.50" y1="381.69" x2="124.50" y2="390.69" stroke="#80f040" stroke-width="0.9" />
<line x1="122.70" y1="381.69" x2="126.30" y2="381.69" stroke="#80f040" stroke-width="0.9" />
<line x1="122.70" y1="390.69" x2="126.30" y2="390.69" stroke="#80f040" stroke-width="0.9" />
<polygon points="124.50,383.98 125.18,385.68 126.71,385.68 125.52,386.70 126.03,388.23 124.50,387.38 122.97,388.23 123.48,386.70 122.29,385.68 123.82,385.68" fill="#80f040"/>
<polygon points="151.00,421.22 151.68,422.92 153.21,422.92 152.02,423.94 152.53,425.47 151.00,424.62 149.47,425.47 149.98,423.94 148.79,422.92 150.32,422.92" fill="#80f040"/>
<polygon points="177.50,458.45 178.18,460.15 179.71,460.15 178.52,461.17 179.03,462.70 177.50,461.85 175.97,462.70 176.48,461.17 175.29,460.15 176.82,460.15" fill="#80f040"/>
<line x1="45.00" y1="375.12" x2="45.00" y2="379.12" stroke="#111" stroke-width="0.9" />
<line x1="43.20" y1="375.12" x2="46.80" y2="375.12" stroke="#111" stroke-width="0.9" />
<line x1="43.20" y1="379.12" x2="46.80" y2="379.12" stroke="#111" stroke-width="0.9" />
<polygon points="45.00,375.08 46.70,377.12 45.00,379.16 43.30,377.12" fill="#111"/>
<polygon points="71.50,375.16 73.20,377.20 71.50,379.24 69.80,377.20" fill="#111"/>
<polygon points="98.00,376.07 99.70,378.11 98.00,380.15 96.30,378.11" fill="#111"/>
<polygon points="124.50,385.64 126.20,387.68 124.50,389.72 122.80,387.68" fill="#111"/>
<line x1="151.00" y1="429.05" x2="151.00" y2="434.05" stroke="#111" stroke-width="0.9" />
<line x1="149.20" y1="429.05" x2="152.80" y2="429.05" stroke="#111" stroke-width="0.9" />
<line x1="149.20" y1="434.05" x2="152.80" y2="434.05" stroke="#111" stroke-width="0.9" />
<polygon points="151.00,429.51 152.70,431.55 151.00,433.59 149.30,431.55" fill="#111"/>
<polygon points="177.50,458.54 179.20,460.58 177.50,462.62 175.80,460.58" fill="#111"/>
<polygon points="45.00,378.98 43.30,375.75 46.70,375.75" fill="#2060f0"/>
<polygon points="71.50,379.01 69.80,375.78 73.20,375.78" fill="#2060f0"/>
<polygon points="98.00,379.41 96.30,376.18 99.70,376.18" fill="#2060f0"/>
<polygon points="124.50,385.47 122.80,382.24 126.20,382.24" fill="#2060f0"/>
<line x1="151.00" y1="424.64" x2="151.00" y2="428.64" stroke="#2060f0" stroke-width="0.9" />
<line x1="149.20" y1="424.64" x2="152.80" y2="424.64" stroke="#2060f0" stroke-width="0.9" />
<line x1="149.20" y1="428.64" x2="152.80" y2="428.64" stroke="#2060f0" stroke-width="0.9" />
<polygon points="151.00,428.51 149.30,425.28 152.70,425.28" fill="#2060f0"/>
<polygon points="177.50,462.67 175.80,459.44 179.20,459.44" fill="#2060f0"/>
<circle cx="45.00" cy="377.14" r="1.70" fill="#8c3a9c"/>
<circle cx="71.50" cy="377.48" r="1.70" fill="#8c3a9c"/>
<circle cx="98.00" cy="382.00" r="1.70" fill="#8c3a9c"/>
<circle cx="124.50" cy="416.19" r="1.70" fill="#8c3a9c"/>
<circle cx="151.00" cy="454.54" r="1.70" fill="#8c3a9c"/>
<circle cx="177.50" cy="460.32" r="1.70" fill="#8c3a9c"/>
<line x1="163.1" y1="374.80" x2="170.5" y2="374.80" stroke="#111" stroke-width="1.3"/>
<line x1="173.5" y1="374.80" x2="177.9" y2="374.80" stroke="#111" stroke-width="1.3"/>
<circle cx="170.50" cy="374.80" r="1.80" fill="#111"/>
<text x="181.7" y="377.60" font-size="7.8" fill="#111" xml:space="preserve">OCI-LY8 Cas9</text>
<line x1="163.1" y1="384.32" x2="177.9" y2="384.32" stroke="#8c3a7c" stroke-width="1.3"/>
<polygon points="170.50,382.16 172.30,384.32 170.50,386.48 168.70,384.32" fill="#8c3a7c"/>
<text x="181.7" y="387.12" font-size="7.8" fill="#111" xml:space="preserve">sgLacZ</text>
<line x1="163.1" y1="393.84" x2="177.9" y2="393.84" stroke="#f0361c" stroke-width="1.3"/>
<polygon points="170.50,395.82 168.70,392.40 172.30,392.40" fill="#e03030"/>
<text x="181.7" y="396.64" font-size="7.8" fill="#111" xml:space="preserve"><tspan font-style="italic">SETD1B</tspan>  sg1 clone 1</text>
<line x1="163.1" y1="403.36" x2="177.9" y2="403.36" stroke="#80f040" stroke-width="1.3"/>
<polygon points="170.50,401.02 171.22,402.82 172.84,402.82 171.58,403.90 172.12,405.52 170.50,404.62 168.88,405.52 169.42,403.90 168.16,402.82 169.78,402.82" fill="#80f040"/>
<text x="181.7" y="406.16" font-size="7.8" fill="#111" xml:space="preserve"><tspan font-style="italic">SETD1B</tspan>  sg1 clone 2</text>
<line x1="163.1" y1="412.88" x2="177.9" y2="412.88" stroke="#111" stroke-width="1.3"/>
<polygon points="170.50,410.72 172.30,412.88 170.50,415.04 168.70,412.88" fill="#111"/>
<text x="181.7" y="415.68" font-size="7.8" fill="#111" xml:space="preserve"><tspan font-style="italic">SETD1B</tspan> sg2 clone 1</text>
<line x1="163.1" y1="422.40" x2="177.9" y2="422.40" stroke="#2060f0" stroke-width="1.3"/>
<polygon points="170.50,424.38 168.70,420.96 172.30,420.96" fill="#2060f0"/>
<text x="181.7" y="425.20" font-size="7.8" fill="#111" xml:space="preserve"><tspan font-style="italic">SETD1B</tspan> sg2 clone 2</text>
<line x1="163.1" y1="431.92" x2="177.9" y2="431.92" stroke="#8030b0" stroke-width="1.3"/>
<circle cx="170.50" cy="431.92" r="1.80" fill="#8030b0"/>
<text x="181.7" y="434.72" font-size="7.8" fill="#111" xml:space="preserve"><tspan font-style="italic">SETD1B</tspan> sg2 clone 3</text>
<text x="-0.10" y="532.90" font-size="12.5" text-anchor="start" fill="#111" >G</text>
<text x="88.80" y="531.00" font-size="7.9" fill="#111">SU-DHL-10 (<tspan font-style="italic">KMT2D</tspan><tspan font-size="4.6" dy="-3.2" font-style="italic" style="stroke-width:0px">WT</tspan><tspan dy="3.2">)</tspan></text>
<line x1="35.10" y1="536.50" x2="35.10" y2="645.50" stroke="#111" stroke-width="1.1" />
<line x1="34.60" y1="645.00" x2="173.70" y2="645.00" stroke="#111" stroke-width="1.1" />
<line x1="32.30" y1="645.00" x2="35.10" y2="645.00" stroke="#111" stroke-width="1" />
<text x="30.60" y="647.90" font-size="8" text-anchor="end" fill="#111" >0</text>
<line x1="32.30" y1="609.00" x2="35.10" y2="609.00" stroke="#111" stroke-width="1" />
<text x="30.60" y="611.90" font-size="8" text-anchor="end" fill="#111" >50</text>
<line x1="32.30" y1="573.00" x2="35.10" y2="573.00" stroke="#111" stroke-width="1" />
<text x="30.60" y="575.90" font-size="8" text-anchor="end" fill="#111" >100</text>
<line x1="32.30" y1="537.00" x2="35.10" y2="537.00" stroke="#111" stroke-width="1" />
<text x="30.60" y="539.90" font-size="8" text-anchor="end" fill="#111" >150</text>
<line x1="35.10" y1="645.00" x2="35.10" y2="647.80" stroke="#111" stroke-width="1" />
<text x="35.10" y="655.50" font-size="8" text-anchor="middle" fill="#111" >-10</text>
<line x1="81.30" y1="645.00" x2="81.30" y2="647.80" stroke="#111" stroke-width="1" />
<text x="81.30" y="655.50" font-size="8" text-anchor="middle" fill="#111" >-8</text>
<line x1="127.50" y1="645.00" x2="127.50" y2="647.80" stroke="#111" stroke-width="1" />
<text x="127.50" y="655.50" font-size="8" text-anchor="middle" fill="#111" >-6</text>
<line x1="173.70" y1="645.00" x2="173.70" y2="647.80" stroke="#111" stroke-width="1" />
<text x="173.70" y="655.50" font-size="8" text-anchor="middle" fill="#111" >-4</text>
<text x="57.0" y="665.6" font-size="8.2" fill="#111">Venetoclax (log<tspan font-size="5" dy="2" style="stroke-width:0.1px">10</tspan><tspan dy="-2">, M)</tspan></text>
<text x="8.30" y="591.00" font-size="9.1" text-anchor="middle" fill="#111" transform="rotate(-90 8.30 591.00)" >Viable cells (% of DMSO)</text>
<polyline points="35.10,574.19 36.54,574.28 37.99,574.37 39.43,574.47 40.88,574.58 42.32,574.69 43.76,574.81 45.21,574.95 46.65,575.09 48.09,575.24 49.54,575.40 50.98,575.57 52.43,575.76 53.87,575.95 55.31,576.16 56.76,576.39 58.20,576.63 59.64,576.89 61.09,577.16 62.53,577.45 63.98,577.76 65.42,578.09 66.86,578.44 68.31,578.81 69.75,579.21 71.19,579.63 72.64,580.08 74.08,580.55 75.53,581.05 76.97,581.58 78.41,582.14 79.86,582.73 81.30,583.35 82.74,584.00 84.19,584.69 85.63,585.41 87.08,586.17 88.52,586.96 89.96,587.79 91.41,588.65 92.85,589.55 94.29,590.49 95.74,591.46 97.18,592.46 98.62,593.50 100.07,594.57 101.51,595.68 102.96,596.81 104.40,597.97 105.84,599.15 107.29,600.36 108.73,601.59 110.18,602.84 111.62,604.11 113.06,605.39 114.51,606.67 115.95,607.96 117.39,609.26 118.84,610.55 120.28,611.84 121.72,613.13 123.17,614.40 124.61,615.66 126.06,616.90 127.50,618.12 128.94,619.32 130.39,620.50 131.83,621.65 133.28,622.77 134.72,623.86 136.16,624.92 137.61,625.94 139.05,626.93 140.49,627.89 141.94,628.81 143.38,629.70 144.83,630.55 146.27,631.36 147.71,632.14 149.16,632.88 150.60,633.59" fill="none" stroke="#111" stroke-width="1.3"/>
<polyline points="35.10,573.00 36.54,573.00 37.99,573.00 39.43,573.00 40.88,573.00 42.32,573.00 43.76,573.00 45.21,573.00 46.65,573.00 48.09,573.00 49.54,573.00 50.98,573.00 52.43,573.00 53.87,573.00 55.31,573.00 56.76,573.00 58.20,573.00 59.64,573.00 61.09,573.00 62.53,573.00 63.98,573.00 65.42,573.00 66.86,573.00 68.31,573.00 69.75,573.00 71.19,573.00 72.64,573.00 74.08,573.00 75.53,573.00 76.97,573.00 78.41,573.00 79.86,573.00 81.30,573.00 82.74,573.00 84.19,573.00 85.63,573.00 87.08,573.00 88.52,573.00 89.96,573.00 91.41,573.01 92.85,573.01 94.29,573.01 95.74,573.01 97.18,573.02 98.62,573.03 100.07,573.04 101.51,573.05 102.96,573.07 104.40,573.09 105.84,573.13 107.29,573.18 108.73,573.24 110.18,573.33 111.62,573.46 113.06,573.63 114.51,573.86 115.95,574.17 117.39,574.60 118.84,575.17 120.28,575.95 121.72,576.99 123.17,578.36 124.61,580.16 126.06,582.47 127.50,585.40 128.94,588.99 130.39,593.27 131.83,598.18 133.28,603.57 134.72,609.23 136.16,614.87 137.61,620.24 139.05,625.10 140.49,629.33 141.94,632.86 143.38,635.73 144.83,638.00 146.27,639.76 147.71,641.11 149.16,642.12 150.60,642.88" fill="none" stroke="#6e1e66" stroke-width="1.3"/>
<polyline points="35.10,573.00 36.54,573.00 37.99,573.00 39.43,573.00 40.88,573.00 42.32,573.00 43.76,573.00 45.21,573.00 46.65,573.00 48.09,573.00 49.54,573.00 50.98,573.00 52.43,573.00 53.87,573.00 55.31,573.00 56.76,573.00 58.20,573.00 59.64,573.00 61.09,573.00 62.53,573.00 63.98,573.00 65.42,573.00 66.86,573.00 68.31,573.00 69.75,573.00 71.19,573.00 72.64,573.00 74.08,573.00 75.53,573.00 76.97,573.00 78.41,573.00 79.86,573.00 81.30,573.00 82.74,573.00 84.19,573.00 85.63,573.00 87.08,573.00 88.52,573.00 89.96,573.00 91.41,573.00 92.85,573.00 94.29,573.00 95.74,573.00 97.18,573.00 98.62,573.00 100.07,573.00 101.51,573.00 102.96,573.00 104.40,573.00 105.84,573.00 107.29,573.00 108.73,573.00 110.18,573.00 111.62,573.00 113.06,573.00 114.51,573.00 115.95,573.00 117.39,573.00 118.84,573.01 120.28,573.01 121.72,573.02 123.17,573.04 124.61,573.08 126.06,573.13 127.50,573.24 128.94,573.42 130.39,573.75 131.83,574.32 133.28,575.31 134.72,577.00 136.16,579.82 137.61,584.30 139.05,590.91 140.49,599.68 141.94,609.83 143.38,619.84 144.83,628.30 146.27,634.55 147.71,638.72 149.16,641.33 150.60,642.89" fill="none" stroke="#f03a1a" stroke-width="1.3"/>
<polygon points="59.00,576.64 57.00,572.84 61.00,572.84" fill="#111"/>
<polygon points="75.17,584.56 73.17,580.76 77.17,580.76" fill="#111"/>
<polygon points="82.10,588.16 80.10,584.36 84.10,584.36" fill="#111"/>
<polygon points="98.27,598.96 96.27,595.16 100.27,595.16" fill="#111"/>
<polygon points="105.20,596.80 103.20,593.00 107.20,593.00" fill="#111"/>
<polygon points="121.37,609.76 119.37,605.96 123.37,605.96" fill="#111"/>
<polygon points="128.30,606.88 126.30,603.08 130.30,603.08" fill="#111"/>
<polygon points="144.47,635.68 142.47,631.88 146.47,631.88" fill="#111"/>
<polygon points="151.40,642.88 149.40,639.08 153.40,639.08" fill="#111"/>
<polygon points="59.00,570.19 57.10,573.80 60.90,573.80" fill="#6e1e66"/>
<polygon points="75.17,574.51 73.27,578.12 77.07,578.12" fill="#6e1e66"/>
<polygon points="82.10,572.35 80.20,575.96 84.00,575.96" fill="#6e1e66"/>
<polygon points="98.27,578.83 96.37,582.44 100.17,582.44" fill="#6e1e66"/>
<polygon points="105.20,579.55 103.30,583.16 107.10,583.16" fill="#6e1e66"/>
<polygon points="121.37,578.83 119.47,582.44 123.27,582.44" fill="#6e1e66"/>
<polygon points="128.30,583.15 126.40,586.76 130.20,586.76" fill="#6e1e66"/>
<polygon points="144.47,627.07 142.57,630.68 146.37,630.68" fill="#6e1e66"/>
<polygon points="151.40,640.03 149.50,643.64 153.30,643.64" fill="#6e1e66"/>
<circle cx="59.00" cy="568.68" r="2.00" fill="#e8321a"/>
<circle cx="75.17" cy="567.96" r="2.00" fill="#e8321a"/>
<circle cx="82.10" cy="566.52" r="2.00" fill="#e8321a"/>
<circle cx="98.27" cy="566.52" r="2.00" fill="#e8321a"/>
<circle cx="105.20" cy="570.84" r="2.00" fill="#e8321a"/>
<circle cx="121.37" cy="569.40" r="2.00" fill="#e8321a"/>
<circle cx="128.30" cy="571.56" r="2.00" fill="#e8321a"/>
<circle cx="144.47" cy="629.16" r="2.00" fill="#e8321a"/>
<circle cx="151.40" cy="643.56" r="2.00" fill="#e8321a"/>
<circle cx="35.10" cy="573.00" r="1.50" fill="#3a9a3a"/>
<line x1="152.70" y1="584.30" x2="161.90" y2="584.30" stroke="#111" stroke-width="1.3" />
<polygon points="157.30,586.83 155.00,582.46 159.60,582.46" fill="#111"/>
<text x="167.7" y="587.20" font-size="8" fill="#111">sg<tspan font-style="italic">LacZ</tspan></text>
<line x1="152.70" y1="595.85" x2="161.90" y2="595.85" stroke="#f03a1a" stroke-width="1.3" />
<circle cx="157.30" cy="595.85" r="2.30" fill="#f03a1a"/>
<text x="167.7" y="598.75" font-size="8" fill="#111"><tspan font-style="italic">SETD1B</tspan> sg1 clone 1</text>
<line x1="152.70" y1="607.40" x2="161.90" y2="607.40" stroke="#7a2070" stroke-width="1.3" />
<polygon points="157.30,604.87 155.00,609.24 159.60,609.24" fill="#7a2070"/>
<text x="167.7" y="610.30" font-size="8" fill="#111"><tspan font-style="italic">SETD1B</tspan> sg1 clone 2</text>
<text x="269.80" y="532.90" font-size="12.5" text-anchor="start" fill="#111" >H</text>
<text x="340.80" y="531.50" font-size="7.85" fill="#111">OCI-LY8 (<tspan font-style="italic">KMT2D</tspan><tspan font-size="4.6" dy="-3.2" font-style="italic" style="stroke-width:0px">WT</tspan><tspan dy="3.2">)</tspan></text>
<line x1="303.20" y1="537.48" x2="303.20" y2="645.50" stroke="#111" stroke-width="1.1" />
<line x1="302.70" y1="645.00" x2="439.90" y2="645.00" stroke="#111" stroke-width="1.1" />
<line x1="300.40" y1="645.00" x2="303.20" y2="645.00" stroke="#111" stroke-width="1" />
<text x="298.70" y="647.90" font-size="8" text-anchor="end" fill="#111" >0</text>
<line x1="300.40" y1="609.33" x2="303.20" y2="609.33" stroke="#111" stroke-width="1" />
<text x="298.70" y="612.23" font-size="8" text-anchor="end" fill="#111" >50</text>
<line x1="300.40" y1="573.65" x2="303.20" y2="573.65" stroke="#111" stroke-width="1" />
<text x="298.70" y="576.55" font-size="8" text-anchor="end" fill="#111" >100</text>
<line x1="300.40" y1="537.98" x2="303.20" y2="537.98" stroke="#111" stroke-width="1" />
<text x="298.70" y="540.88" font-size="8" text-anchor="end" fill="#111" >150</text>
<line x1="302.80" y1="645.00" x2="302.80" y2="647.80" stroke="#111" stroke-width="1" />
<text x="302.80" y="655.50" font-size="8" text-anchor="middle" fill="#111" >-10</text>
<line x1="348.50" y1="645.00" x2="348.50" y2="647.80" stroke="#111" stroke-width="1" />
<text x="348.50" y="655.50" font-size="8" text-anchor="middle" fill="#111" >-8</text>
<line x1="394.20" y1="645.00" x2="394.20" y2="647.80" stroke="#111" stroke-width="1" />
<text x="394.20" y="655.50" font-size="8" text-anchor="middle" fill="#111" >-6</text>
<line x1="439.90" y1="645.00" x2="439.90" y2="647.80" stroke="#111" stroke-width="1" />
<text x="439.90" y="655.50" font-size="8" text-anchor="middle" fill="#111" >-4</text>
<text x="332.3" y="666.3" font-size="8.25" fill="#111">Venetoclax (log<tspan font-size="5" dy="2" style="stroke-width:0.1px">10</tspan><tspan dy="-2">, M)</tspan></text>
<text x="277.00" y="594.70" font-size="8.1" text-anchor="middle" fill="#111" transform="rotate(-90 277.00 594.70)" >Viable cells (% of DMSO)</text>
<polyline points="302.80,573.66 304.23,573.66 305.66,573.66 307.08,573.66 308.51,573.67 309.94,573.67 311.37,573.68 312.80,573.68 314.23,573.69 315.65,573.70 317.08,573.72 318.51,573.74 319.94,573.76 321.37,573.79 322.79,573.83 324.22,573.88 325.65,573.95 327.08,574.03 328.51,574.13 329.93,574.26 331.36,574.43 332.79,574.65 334.22,574.92 335.65,575.26 337.08,575.70 338.50,576.24 339.93,576.93 341.36,577.78 342.79,578.84 344.22,580.15 345.64,581.75 347.07,583.68 348.50,585.98 349.93,588.68 351.36,591.79 352.78,595.29 354.21,599.14 355.64,603.27 357.07,607.58 358.50,611.94 359.93,616.22 361.35,620.30 362.78,624.09 364.21,627.52 365.64,630.54 367.07,633.16 368.49,635.38 369.92,637.24 371.35,638.78 372.78,640.04 374.21,641.05 375.63,641.87 377.06,642.53 378.49,643.05 379.92,643.46 381.35,643.79 382.78,644.05 384.20,644.25 385.63,644.41 387.06,644.54 388.49,644.64 389.92,644.72 391.34,644.78 392.77,644.83 394.20,644.86 395.63,644.89 397.06,644.92 398.48,644.93 399.91,644.95 401.34,644.96 402.77,644.97 404.20,644.98 405.62,644.98 407.05,644.98 408.48,644.99 409.91,644.99 411.34,644.99 412.77,644.99 414.19,645.00 415.62,645.00 417.05,645.00" fill="none" stroke="#3a8a3a" stroke-width="1.3"/>
<polyline points="302.80,573.65 304.23,573.65 305.66,573.65 307.08,573.65 308.51,573.65 309.94,573.65 311.37,573.65 312.80,573.65 314.23,573.65 315.65,573.65 317.08,573.65 318.51,573.65 319.94,573.65 321.37,573.65 322.79,573.65 324.22,573.65 325.65,573.65 327.08,573.65 328.51,573.65 329.93,573.65 331.36,573.65 332.79,573.65 334.22,573.65 335.65,573.65 337.08,573.65 338.50,573.65 339.93,573.65 341.36,573.65 342.79,573.65 344.22,573.65 345.64,573.65 347.07,573.65 348.50,573.65 349.93,573.65 351.36,573.65 352.78,573.65 354.21,573.65 355.64,573.66 357.07,573.66 358.50,573.66 359.93,573.66 361.35,573.67 362.78,573.67 364.21,573.68 365.64,573.69 367.07,573.70 368.49,573.71 369.92,573.73 371.35,573.76 372.78,573.80 374.21,573.84 375.63,573.91 377.06,573.99 378.49,574.10 379.92,574.24 381.35,574.43 382.78,574.68 384.20,575.01 385.63,575.44 387.06,576.00 388.49,576.73 389.92,577.67 391.34,578.88 392.77,580.41 394.20,582.34 395.63,584.72 397.06,587.60 398.48,591.02 399.91,594.97 401.34,599.38 402.77,604.16 404.20,609.12 405.62,614.10 407.05,618.90 408.48,623.34 409.91,627.33 411.34,630.79 412.77,633.72 414.19,636.14 415.62,638.10 417.05,639.66" fill="none" stroke="#2040f0" stroke-width="1.3"/>
<polyline points="302.80,573.65 304.23,573.65 305.66,573.65 307.08,573.65 308.51,573.65 309.94,573.65 311.37,573.65 312.80,573.65 314.23,573.65 315.65,573.65 317.08,573.65 318.51,573.65 319.94,573.65 321.37,573.65 322.79,573.65 324.22,573.65 325.65,573.65 327.08,573.65 328.51,573.65 329.93,573.65 331.36,573.65 332.79,573.65 334.22,573.65 335.65,573.65 337.08,573.65 338.50,573.66 339.93,573.66 341.36,573.66 342.79,573.66 344.22,573.66 345.64,573.67 347.07,573.67 348.50,573.68 349.93,573.68 351.36,573.69 352.78,573.70 354.21,573.72 355.64,573.73 357.07,573.75 358.50,573.78 359.93,573.81 361.35,573.86 362.78,573.91 364.21,573.97 365.64,574.06 367.07,574.16 368.49,574.29 369.92,574.46 371.35,574.67 372.78,574.93 374.21,575.25 375.63,575.65 377.06,576.15 378.49,576.77 379.92,577.53 381.35,578.47 382.78,579.61 384.20,581.00 385.63,582.66 387.06,584.63 388.49,586.95 389.92,589.62 391.34,592.66 392.77,596.03 394.20,599.71 395.63,603.62 397.06,607.68 398.48,611.79 399.91,615.82 401.34,619.70 402.77,623.32 404.20,626.63 405.62,629.59 407.05,632.19 408.48,634.44 409.91,636.35 411.34,637.95 412.77,639.28 414.19,640.38 415.62,641.28 417.05,642.02" fill="none" stroke="#e8321a" stroke-width="1.3"/>
<polyline points="302.80,573.65 304.23,573.65 305.66,573.65 307.08,573.65 308.51,573.65 309.94,573.65 311.37,573.65 312.80,573.66 314.23,573.66 315.65,573.66 317.08,573.66 318.51,573.66 319.94,573.67 321.37,573.67 322.79,573.67 324.22,573.68 325.65,573.69 327.08,573.70 328.51,573.71 329.93,573.72 331.36,573.74 332.79,573.76 334.22,573.79 335.65,573.82 337.08,573.86 338.50,573.92 339.93,573.98 341.36,574.06 342.79,574.16 344.22,574.28 345.64,574.43 347.07,574.61 348.50,574.84 349.93,575.12 351.36,575.47 352.78,575.89 354.21,576.41 355.64,577.05 357.07,577.82 358.50,578.75 359.93,579.87 361.35,581.21 362.78,582.80 364.21,584.66 365.64,586.82 367.07,589.30 368.49,592.10 369.92,595.20 371.35,598.58 372.78,602.18 374.21,605.95 375.63,609.79 377.06,613.62 378.49,617.35 379.92,620.90 381.35,624.22 382.78,627.25 384.20,629.97 385.63,632.37 387.06,634.46 388.49,636.26 389.92,637.78 391.34,639.07 392.77,640.14 394.20,641.03 395.63,641.77 397.06,642.37 398.48,642.87 399.91,643.27 401.34,643.60 402.77,643.87 404.20,644.08 405.62,644.26 407.05,644.40 408.48,644.52 409.91,644.61 411.34,644.69 412.77,644.75 414.19,644.80 415.62,644.84 417.05,644.87" fill="none" stroke="#111" stroke-width="1.3"/>
<polygon points="326.35,572.38 324.55,575.80 328.15,575.80" fill="#3a8a3a"/>
<polygon points="342.34,580.59 340.54,584.01 344.14,584.01" fill="#3a8a3a"/>
<polygon points="349.20,586.65 347.40,590.07 351.00,590.07" fill="#3a8a3a"/>
<polygon points="365.19,628.75 363.39,632.17 367.00,632.17" fill="#3a8a3a"/>
<polygon points="372.05,635.17 370.25,638.59 373.85,638.59" fill="#3a8a3a"/>
<polygon points="388.05,643.02 386.25,646.44 389.85,646.44" fill="#3a8a3a"/>
<polygon points="394.90,643.02 393.10,646.44 396.70,646.44" fill="#3a8a3a"/>
<polygon points="410.90,643.02 409.10,646.44 412.70,646.44" fill="#3a8a3a"/>
<polygon points="417.75,643.02 415.95,646.44 419.55,646.44" fill="#3a8a3a"/>
<polygon points="372.05,578.48 370.25,575.06 373.85,575.06" fill="#2040f0"/>
<polygon points="394.90,584.19 393.10,580.77 396.70,580.77" fill="#2040f0"/>
<polygon points="410.90,629.86 409.10,626.44 412.70,626.44" fill="#2040f0"/>
<polygon points="417.75,641.27 415.95,637.85 419.55,637.85" fill="#2040f0"/>
<rect x="324.65" y="570.52" width="3.40" height="3.40" fill="#e8321a"/>
<rect x="340.64" y="570.52" width="3.40" height="3.40" fill="#e8321a"/>
<rect x="363.50" y="574.09" width="3.40" height="3.40" fill="#e8321a"/>
<rect x="370.35" y="578.37" width="3.40" height="3.40" fill="#e8321a"/>
<rect x="386.35" y="594.78" width="3.40" height="3.40" fill="#e8321a"/>
<rect x="393.20" y="593.35" width="3.40" height="3.40" fill="#e8321a"/>
<rect x="409.20" y="643.30" width="3.40" height="3.40" fill="#e8321a"/>
<rect x="416.05" y="643.30" width="3.40" height="3.40" fill="#e8321a"/>
<circle cx="326.35" cy="569.58" r="1.90" fill="#111"/>
<circle cx="342.34" cy="569.58" r="1.90" fill="#111"/>
<circle cx="349.20" cy="571.51" r="1.90" fill="#111"/>
<circle cx="365.19" cy="590.06" r="1.90" fill="#111"/>
<circle cx="372.05" cy="597.20" r="1.90" fill="#111"/>
<circle cx="388.05" cy="638.58" r="1.90" fill="#111"/>
<circle cx="394.90" cy="642.86" r="1.90" fill="#111"/>
<circle cx="410.90" cy="645.00" r="1.90" fill="#111"/>
<circle cx="417.75" cy="645.00" r="1.90" fill="#111"/>
<circle cx="303.20" cy="573.65" r="1.80" fill="#111"/>
<line x1="415.70" y1="576.50" x2="425.80" y2="576.50" stroke="#111" stroke-width="1.3" />
<circle cx="420.70" cy="576.50" r="1.30" fill="#111"/>
<text x="430.7" y="579.40" font-size="8.1" fill="#111">sg<tspan font-style="italic">LacZ</tspan></text>
<line x1="415.70" y1="588.10" x2="425.80" y2="588.10" stroke="#e8321a" stroke-width="1.3" />
<rect x="419.40" y="586.80" width="2.60" height="2.60" fill="#e8321a"/>
<text x="430.7" y="591.00" font-size="8.1" fill="#111"><tspan font-style="italic">sgSETD1B</tspan> sg1 clone 1</text>
<line x1="415.70" y1="600.10" x2="425.80" y2="600.10" stroke="#3a8a3a" stroke-width="1.3" />
<polygon points="420.70,598.67 419.40,601.14 422.00,601.14" fill="#3a8a3a"/>
<text x="430.7" y="603.00" font-size="8.1" fill="#111"><tspan font-style="italic">sgKMT2D</tspan> sg1 clone 1</text>
<line x1="415.70" y1="610.70" x2="425.80" y2="610.70" stroke="#2040f0" stroke-width="1.3" />
<polygon points="420.70,612.13 419.40,609.66 422.00,609.66" fill="#2040f0"/>
<text x="430.7" y="613.60" font-size="8.1" fill="#111"><tspan font-style="italic">sgSETD1B;sgKMT2D</tspan></text>
<text x="430.7" y="623.7" font-size="8.1" fill="#111">sg1 clone 1</text>
</svg></body></html>
